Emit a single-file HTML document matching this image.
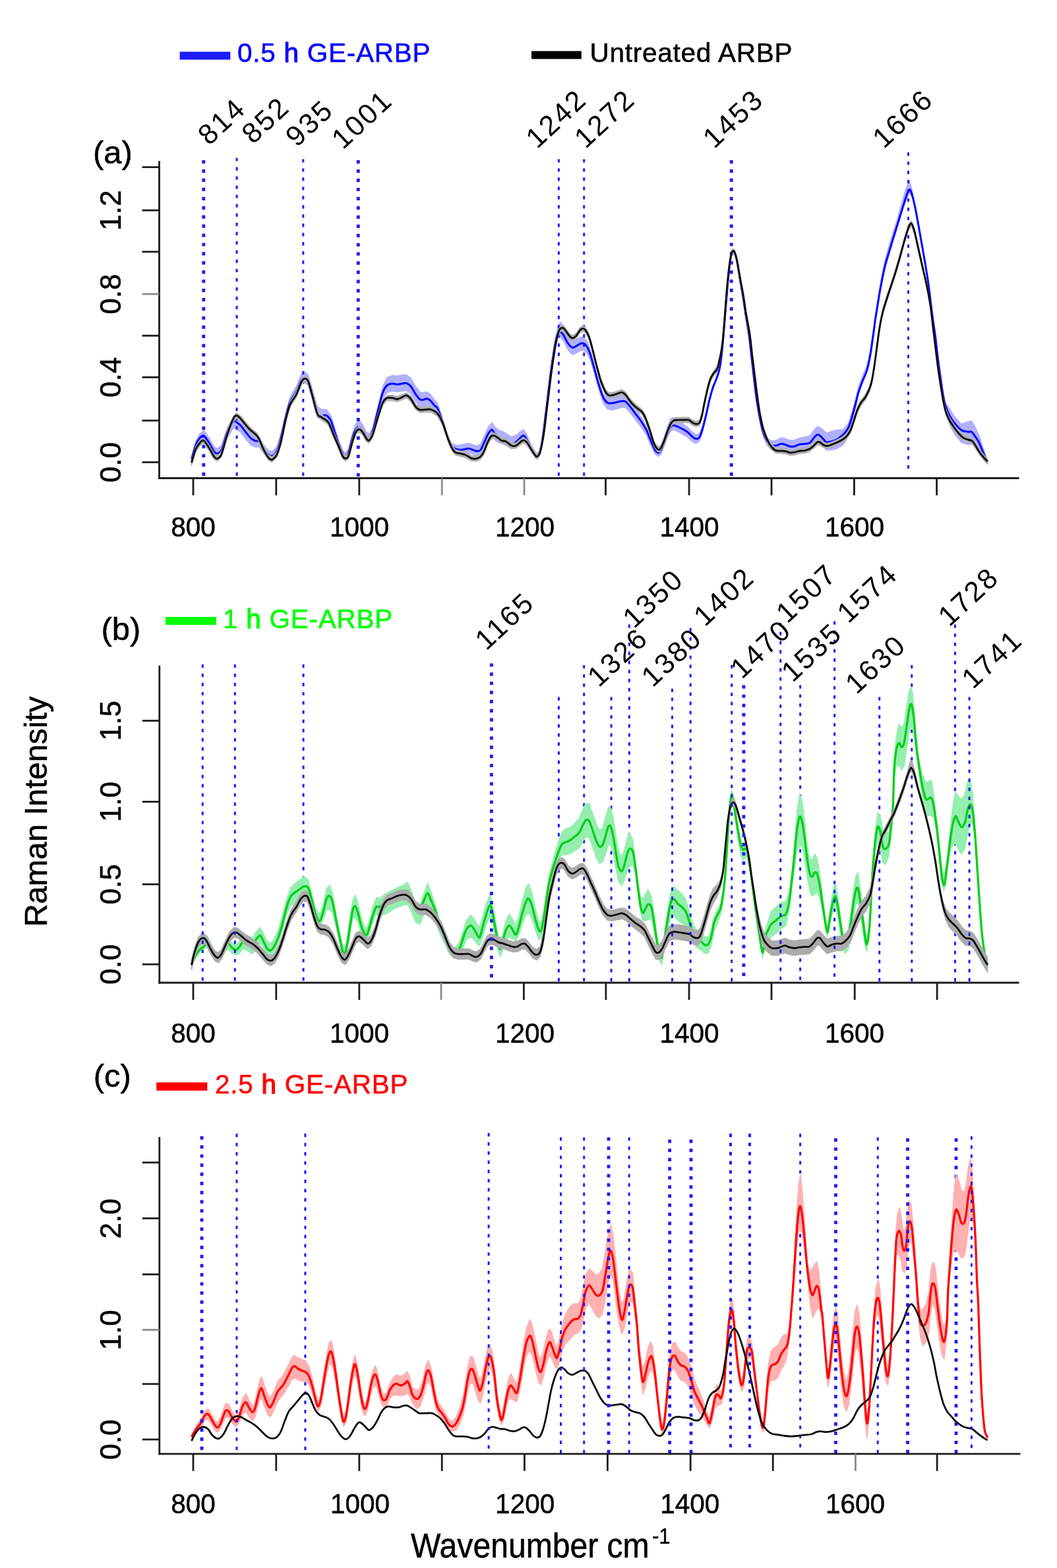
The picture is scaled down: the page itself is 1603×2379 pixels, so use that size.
<!DOCTYPE html>
<html lang="en"><head><meta charset="utf-8"><title>Raman spectra of GE-ARBP</title>
<style>html,body{margin:0;padding:0;background:#fff}body{width:1603px;height:2379px;overflow:hidden}svg{display:block}text{font-family:"Liberation Sans",Arial,Helvetica,sans-serif}</style>
</head><body>
<svg width="1603" height="2379" viewBox="0 0 1603 2379">
<rect x="0" y="0" width="1603" height="2379" fill="#ffffff"/>
<g id="fig">
<g id="panel-a">
<polygon points="290.5,694.4 296.8,670.2 302.7,658.5 309.1,653.1 316.7,663.6 324.9,678.0 329.5,680.7 335.9,675.8 344.8,649.2 353.7,632.9 358.8,634.3 365.2,639.4 372.9,649.6 380.5,658.5 386.9,662.4 393.3,663.7 398.4,672.6 406.0,682.8 412.4,685.3 420.1,677.3 426.4,656.5 434.1,622.9 440.5,600.9 449.4,586.2 457.0,567.7 462.1,564.3 467.2,568.6 473.6,590.3 481.3,617.1 487.7,620.9 495.3,621.4 501.7,630.2 506.8,646.4 513.2,666.7 519.5,683.2 523.9,687.6 528.5,681.1 534.8,656.3 539.9,642.0 545.1,638.0 550.2,644.5 555.3,654.9 559.6,658.6 565.5,647.9 573.1,617.5 580.8,585.8 587.1,572.6 594.8,569.6 602.4,570.5 610.1,568.8 616.5,568.8 622.9,573.7 630.6,586.8 637.0,594.9 642.1,595.8 647.2,594.5 652.3,597.8 658.7,606.3 663.8,612.1 671.4,635.3 679.1,661.0 685.5,673.5 694.4,675.9 702.0,674.0 711.0,672.5 717.3,674.6 723.7,676.5 728.8,673.9 733.9,663.1 740.3,648.4 745.9,641.5 750.5,647.5 755.6,652.1 763.3,655.2 776.0,662.8 783.7,659.7 790.1,653.9 794.4,651.8 799.0,659.7 805.4,674.6 811.7,685.7 814.8,689.1 819.4,680.4 824.0,655.1 827.8,624.6 832.1,589.1 836.7,549.9 841.8,514.1 846.2,494.2 850.0,488.8 855.1,495.3 860.2,506.8 865.3,514.6 869.1,517.1 874.2,514.8 880.6,511.5 885.7,511.7 890.8,518.7 895.9,532.9 902.3,557.6 908.7,581.1 915.1,597.7 921.4,604.1 929.1,603.6 936.7,601.8 944.4,600.6 949.5,602.2 957.1,611.6 964.8,622.3 972.4,633.1 980.1,646.6 986.5,662.6 993.2,678.3 998.3,682.9 1002.1,678.0 1007.2,663.0 1012.3,646.8 1017.4,634.9 1022.5,633.6 1028.9,637.9 1036.5,643.7 1042.9,648.1 1049.3,655.0 1055.7,659.4 1060.8,657.9 1065.9,644.9 1071.0,625.6 1076.1,603.5 1081.2,585.8 1086.3,573.2 1090.6,560.5 1093.9,540.2 1096.5,514.8 1102.6,440.7 1106.4,402.5 1109.7,382.1 1113.5,380.0 1117.3,392.3 1121.9,420.3 1126.8,448.4 1130.6,473.9 1136.0,507.3 1139.8,540.3 1143.7,573.0 1147.5,603.2 1151.8,628.2 1156.9,650.5 1162.8,663.5 1169.2,669.1 1176.8,668.3 1184.5,664.2 1189.6,664.9 1197.2,667.9 1204.9,667.8 1212.6,664.6 1220.2,663.3 1227.9,661.3 1234.2,653.1 1239.3,647.5 1243.2,648.3 1248.3,652.6 1253.4,656.9 1261.0,654.4 1268.7,652.6 1278.9,651.4 1286.5,642.4 1291.6,626.7 1296.7,608.4 1301.8,587.6 1308.2,569.8 1314.6,554.7 1319.7,532.2 1323.5,507.0 1327.3,479.3 1330.6,458.7 1335.7,426.8 1342.0,394.5 1351.0,363.9 1361.2,330.7 1371.4,294.2 1378.5,272.8 1382.8,286.0 1387.9,312.4 1393.1,340.7 1399.4,376.7 1407.1,422.9 1414.2,478.8 1418.6,509.4 1422.4,542.4 1426.2,570.2 1430.0,595.5 1433.9,611.9 1440.2,620.5 1447.9,632.5 1458.1,643.4 1468.3,640.0 1473.4,638.4 1478.5,647.3 1484.9,660.7 1491.3,680.6 1497.6,698.7 1497.6,701.9 1491.3,694.4 1484.9,684.4 1478.5,677.5 1473.4,673.7 1468.3,674.4 1458.1,671.8 1447.9,658.9 1440.2,645.3 1433.9,620.0 1430.0,600.0 1426.2,574.2 1422.4,545.9 1418.6,512.6 1414.2,482.0 1407.1,426.1 1399.4,380.5 1393.1,345.0 1387.9,317.1 1382.8,297.9 1378.5,292.8 1371.4,311.3 1361.2,343.5 1351.0,376.7 1342.0,407.3 1335.7,437.5 1330.6,467.7 1327.3,488.3 1323.5,516.4 1319.7,541.9 1314.6,564.8 1308.2,580.2 1301.8,598.0 1296.7,621.8 1291.6,643.1 1286.5,661.8 1278.9,675.0 1268.7,681.0 1261.0,682.6 1253.4,682.9 1248.3,677.1 1243.2,671.4 1239.3,669.7 1234.2,674.5 1227.9,681.7 1220.2,682.5 1212.6,682.9 1204.9,685.5 1197.2,685.1 1189.6,681.7 1184.5,680.6 1176.8,682.9 1169.2,681.9 1162.8,674.8 1156.9,660.2 1151.8,636.0 1147.5,609.5 1143.7,578.0 1139.8,543.9 1136.0,510.5 1130.6,477.1 1126.8,451.6 1121.9,423.5 1117.3,395.5 1113.5,383.2 1109.7,385.3 1106.4,405.7 1102.6,443.9 1096.5,518.3 1093.9,543.8 1090.6,564.4 1086.3,577.2 1081.2,590.2 1076.1,608.2 1071.0,632.1 1065.9,653.8 1060.8,669.1 1055.7,673.0 1049.3,669.4 1042.9,663.3 1036.5,659.7 1028.9,655.2 1022.5,652.1 1017.4,653.5 1012.3,663.0 1007.2,676.8 1002.1,689.4 998.3,692.5 993.2,688.7 986.5,674.4 980.1,659.9 972.4,648.1 964.8,638.2 957.1,628.0 949.5,619.0 944.4,617.8 936.7,619.7 929.1,622.2 921.4,620.8 915.1,611.8 908.7,592.6 902.3,569.8 895.9,548.1 890.8,536.3 885.7,531.7 880.6,531.8 874.2,535.6 869.1,538.2 865.3,536.1 860.2,528.9 855.1,517.9 850.0,512.0 846.2,513.2 841.8,528.2 836.7,558.2 832.1,592.3 827.8,628.2 824.0,659.0 819.4,684.7 814.8,693.9 811.7,692.1 805.4,685.2 799.0,674.4 794.4,669.5 790.1,671.9 783.7,677.8 776.0,681.0 763.3,673.6 755.6,671.5 750.5,667.6 745.9,662.2 740.3,667.8 733.9,680.7 728.8,690.1 723.7,691.2 717.3,689.0 711.0,686.9 702.0,688.4 694.4,687.6 685.5,682.1 679.1,667.4 671.4,645.7 663.8,626.5 658.7,622.7 652.3,616.8 647.2,615.6 642.1,617.7 637.0,617.2 630.6,609.6 622.9,597.1 616.5,592.7 610.1,593.2 602.4,594.5 594.8,593.2 587.1,595.8 580.8,603.3 573.1,628.2 565.5,659.5 559.6,672.1 555.3,669.4 550.2,660.2 545.1,654.8 539.9,656.8 534.8,668.9 528.5,691.2 523.9,695.8 519.5,692.2 513.2,677.4 506.8,658.8 501.7,643.9 495.3,636.7 487.7,636.9 481.3,633.1 473.6,606.3 467.2,584.6 462.1,580.3 457.0,582.9 449.4,600.2 440.5,613.6 434.1,635.1 426.4,668.1 420.1,688.3 412.4,695.7 406.0,694.6 398.4,686.0 393.3,678.2 386.9,678.3 380.5,675.3 372.9,666.4 365.2,656.2 358.8,651.1 353.7,649.3 344.8,664.9 335.9,690.7 329.5,695.1 324.9,692.7 316.7,679.0 309.1,669.1 302.7,672.5 296.8,682.4 290.5,699.2" fill="#b0b0ff" stroke="#b0b0ff" stroke-width="1.5" stroke-linejoin="round"/>
<line x1="308.8" y1="243.0" x2="308.8" y2="722.2" stroke="#1c1cff" stroke-width="4.8" stroke-dasharray="5.20 8.735"/>
<line x1="359.1" y1="239.4" x2="359.1" y2="722.2" stroke="#1c1cff" stroke-width="3.0" stroke-dasharray="5.20 8.841"/>
<line x1="459.8" y1="241.4" x2="459.8" y2="722.2" stroke="#1c1cff" stroke-width="3.0" stroke-dasharray="5.20 8.782"/>
<line x1="543.3" y1="243.0" x2="543.3" y2="723.2" stroke="#1c1cff" stroke-width="4.8" stroke-dasharray="5.20 8.765"/>
<line x1="847.4" y1="241.4" x2="847.4" y2="722.2" stroke="#1c1cff" stroke-width="3.0" stroke-dasharray="5.20 8.782"/>
<line x1="885.7" y1="241.4" x2="885.7" y2="722.2" stroke="#1c1cff" stroke-width="3.0" stroke-dasharray="5.20 8.782"/>
<line x1="1109.2" y1="243.0" x2="1109.2" y2="722.2" stroke="#1c1cff" stroke-width="4.8" stroke-dasharray="5.20 8.735"/>
<line x1="1377.5" y1="231.2" x2="1377.5" y2="711.2" stroke="#1c1cff" stroke-width="3.0" stroke-dasharray="5.20 8.759"/>
<path d="M290.5,696.8C291.5,693.2 294.8,680.5 296.8,675.2C298.9,669.8 300.7,667.3 302.7,664.9C304.7,662.6 306.7,660.1 309.1,661.1C311.4,662.2 314.1,667.3 316.7,671.3C319.4,675.4 322.8,682.6 324.9,685.4C327.0,688.1 327.7,688.3 329.5,687.9C331.3,687.5 333.3,688.1 335.9,682.8C338.4,677.5 341.8,663.2 344.8,656.0C347.8,648.8 351.4,642.0 353.7,639.4C356.1,636.9 356.9,639.7 358.8,640.7C360.7,641.8 362.9,643.3 365.2,645.8C367.5,648.4 370.3,652.8 372.9,656.0C375.4,659.2 378.2,662.8 380.5,664.9C382.8,667.1 384.8,667.9 386.9,668.8C389.0,669.6 391.4,668.4 393.3,670.1C395.2,671.8 396.2,675.8 398.4,679.0C400.5,682.2 403.7,687.1 406.0,689.2C408.4,691.3 410.1,692.6 412.4,691.7C414.7,690.9 417.7,688.8 420.1,684.1C422.4,679.4 424.1,672.6 426.4,663.7C428.8,654.7 431.7,639.7 434.1,630.5C436.4,621.4 437.9,614.8 440.5,608.8C443.0,602.9 446.6,600.1 449.4,594.8C452.2,589.5 454.9,580.4 457.0,576.9C459.2,573.5 460.4,573.7 462.1,573.9C463.8,574.1 465.3,573.9 467.2,578.2C469.2,582.6 471.3,591.8 473.6,599.9C476.0,608.0 478.9,621.6 481.3,626.7C483.6,631.8 485.3,629.9 487.7,630.5C490.0,631.1 493.0,629.2 495.3,630.5C497.6,631.8 499.8,634.3 501.7,638.2C503.6,642.0 504.9,647.7 506.8,653.5C508.7,659.2 511.0,666.9 513.2,672.6C515.3,678.3 517.8,684.7 519.5,687.9C521.3,691.1 522.4,691.9 523.9,691.7C525.4,691.5 526.6,691.3 528.5,686.6C530.3,682.0 532.9,669.6 534.8,663.7C536.8,657.7 538.2,653.5 539.9,650.9C541.6,648.4 543.4,647.9 545.1,648.4C546.8,648.8 548.5,651.1 550.2,653.5C551.9,655.8 553.7,660.5 555.3,662.4C556.8,664.3 557.9,666.4 559.6,664.9C561.3,663.5 563.2,660.5 565.5,653.5C567.7,646.5 570.6,632.6 573.1,622.9C575.7,613.1 578.4,601.2 580.8,594.8C583.1,588.4 584.8,586.7 587.1,584.6C589.5,582.5 592.2,582.3 594.8,582.0C597.3,581.8 599.9,583.3 602.4,583.3C605.0,583.3 607.8,582.3 610.1,582.0C612.4,581.7 614.4,580.9 616.5,581.5C618.6,582.2 620.5,583.1 622.9,585.9C625.2,588.7 628.3,595.0 630.6,598.4C633.0,601.7 635.1,604.7 637.0,606.0C638.9,607.4 640.4,606.7 642.1,606.5C643.8,606.3 645.5,604.6 647.2,604.7C648.9,604.9 650.4,605.6 652.3,607.3C654.2,609.0 656.8,612.8 658.7,614.9C660.6,617.1 661.6,615.8 663.8,620.1C665.9,624.3 668.9,633.2 671.4,640.5C674.0,647.7 676.7,657.3 679.1,663.4C681.4,669.6 682.9,674.3 685.5,677.4C688.0,680.6 691.6,681.3 694.4,682.0C697.2,682.8 699.3,682.3 702.0,682.0C704.8,681.8 708.4,680.4 711.0,680.5C713.5,680.6 715.2,681.9 717.3,682.6C719.5,683.2 721.8,684.6 723.7,684.6C725.6,684.6 727.1,684.6 728.8,682.6C730.5,680.5 732.0,676.4 733.9,672.3C735.8,668.3 738.3,661.7 740.3,658.3C742.3,654.9 744.2,651.9 745.9,651.9C747.6,651.9 748.9,656.4 750.5,658.3C752.1,660.2 753.5,661.9 755.6,663.4C757.7,664.9 759.9,665.5 763.3,667.2C766.7,668.9 772.6,673.2 776.0,673.6C779.4,674.0 781.3,671.5 783.7,669.8C786.0,668.1 788.3,664.9 790.1,663.4C791.8,661.9 792.9,660.2 794.4,660.9C795.9,661.5 797.2,664.1 799.0,667.2C800.8,670.4 803.2,676.4 805.4,680.0C807.5,683.6 810.2,687.0 811.7,688.9C813.3,690.8 813.5,692.5 814.8,691.5C816.1,690.4 817.9,688.3 819.4,682.6C820.9,676.8 822.6,666.4 824.0,657.0C825.4,647.7 826.4,637.5 827.8,626.4C829.2,615.4 830.7,602.6 832.1,590.7C833.6,578.8 835.1,566.3 836.7,555.0C838.4,543.7 840.3,531.2 841.8,523.1C843.4,515.0 844.8,509.7 846.2,506.5C847.5,503.3 848.5,503.6 850.0,504.0C851.5,504.4 853.4,506.5 855.1,509.1C856.8,511.6 858.5,516.5 860.2,519.3C861.9,522.0 863.8,524.3 865.3,525.7C866.8,527.0 867.6,527.6 869.1,527.4C870.6,527.3 872.3,525.9 874.2,524.9C876.1,523.9 878.7,521.9 880.6,521.3C882.5,520.7 884.0,520.4 885.7,521.3C887.4,522.3 889.1,523.9 890.8,526.9C892.5,530.0 894.0,533.7 895.9,539.7C897.8,545.6 900.2,555.0 902.3,562.7C904.4,570.3 906.5,578.8 908.7,585.6C910.8,592.4 912.9,599.2 915.1,603.5C917.2,607.7 919.1,609.8 921.4,611.1C923.8,612.5 926.5,611.8 929.1,611.6C931.6,611.4 934.2,610.4 936.7,609.8C939.3,609.3 942.3,608.6 944.4,608.6C946.5,608.6 947.4,608.1 949.5,609.8C951.6,611.5 954.6,615.6 957.1,618.8C959.7,622.0 962.2,625.6 964.8,629.0C967.3,632.4 969.9,635.4 972.4,639.2C975.0,643.0 977.8,647.3 980.1,651.9C982.4,656.6 984.3,662.2 986.5,667.2C988.7,672.3 991.2,679.1 993.2,682.3C995.1,685.6 996.8,686.7 998.3,686.9C999.8,687.2 1000.6,686.3 1002.1,683.6C1003.6,680.9 1005.5,675.3 1007.2,670.9C1008.9,666.4 1010.6,660.8 1012.3,656.8C1014.0,652.9 1015.7,649.1 1017.4,647.1C1019.1,645.2 1020.6,645.2 1022.5,645.4C1024.4,645.5 1026.5,646.8 1028.9,647.9C1031.2,649.0 1034.2,650.5 1036.5,651.7C1038.9,653.0 1040.8,653.9 1042.9,655.6C1045.0,657.3 1047.2,660.2 1049.3,661.9C1051.4,663.6 1053.8,665.6 1055.7,665.8C1057.6,666.0 1059.1,666.0 1060.8,663.2C1062.5,660.5 1064.2,654.9 1065.9,649.2C1067.6,643.4 1069.3,636.0 1071.0,628.8C1072.7,621.5 1074.4,612.6 1076.1,605.8C1077.8,599.0 1079.5,593.1 1081.2,588.0C1082.9,582.9 1084.7,579.5 1086.3,575.2C1087.8,571.0 1089.3,568.0 1090.6,562.4C1091.9,556.9 1093.0,549.7 1093.9,542.0C1094.9,534.4 1095.0,533.1 1096.5,516.5C1097.9,499.9 1100.9,461.1 1102.6,442.3C1104.2,423.6 1105.2,413.9 1106.4,404.1C1107.6,394.3 1108.5,387.4 1109.7,383.7C1110.9,379.9 1112.2,379.9 1113.5,381.6C1114.8,383.3 1115.9,387.2 1117.3,393.9C1118.8,400.6 1120.4,412.6 1121.9,421.9C1123.5,431.3 1125.3,441.1 1126.8,450.0C1128.2,458.9 1129.1,465.7 1130.6,475.5C1132.2,485.3 1134.5,497.8 1136.0,508.9C1137.6,520.0 1138.6,531.0 1139.8,542.0C1141.1,553.1 1142.4,564.6 1143.7,575.2C1144.9,585.8 1146.1,596.5 1147.5,605.8C1148.9,615.2 1150.3,623.2 1151.8,631.3C1153.4,639.4 1155.1,648.1 1156.9,654.3C1158.8,660.5 1160.8,664.8 1162.8,668.3C1164.8,671.8 1166.8,673.9 1169.2,675.2C1171.5,676.5 1174.3,676.3 1176.8,676.0C1179.4,675.7 1182.4,673.7 1184.5,673.4C1186.6,673.1 1187.5,673.5 1189.6,674.2C1191.7,674.8 1194.7,676.7 1197.2,677.2C1199.8,677.8 1202.3,677.8 1204.9,677.2C1207.4,676.7 1210.0,674.8 1212.6,674.2C1215.1,673.5 1217.7,673.8 1220.2,673.4C1222.8,673.1 1225.5,673.6 1227.9,672.1C1230.2,670.7 1232.3,666.6 1234.2,664.5C1236.1,662.4 1237.8,660.0 1239.3,659.4C1240.8,658.8 1241.7,659.6 1243.2,660.7C1244.7,661.7 1246.6,664.1 1248.3,665.8C1250.0,667.5 1251.2,670.2 1253.4,670.9C1255.5,671.5 1258.5,670.2 1261.0,669.6C1263.6,669.0 1265.7,668.7 1268.7,667.0C1271.6,665.3 1275.9,662.4 1278.9,659.4C1281.9,656.4 1284.4,653.4 1286.5,649.2C1288.7,644.9 1289.9,639.4 1291.6,633.9C1293.3,628.4 1295.0,622.4 1296.7,616.0C1298.4,609.6 1299.9,602.0 1301.8,595.6C1303.8,589.2 1306.1,583.3 1308.2,577.8C1310.3,572.2 1312.7,568.8 1314.6,562.4C1316.5,556.1 1318.2,547.6 1319.7,539.5C1321.2,531.4 1322.2,522.9 1323.5,514.0C1324.8,505.1 1326.2,494.0 1327.3,485.9C1328.5,477.8 1329.2,473.8 1330.6,465.3C1331.9,456.8 1333.7,444.9 1335.7,434.7C1337.6,424.5 1339.5,414.3 1342.0,404.1C1344.6,393.9 1347.8,384.1 1351.0,373.5C1354.1,362.8 1357.8,351.4 1361.2,340.3C1364.6,329.3 1368.5,315.9 1371.4,307.1C1374.3,298.4 1376.6,290.1 1378.5,288.0C1380.4,285.9 1381.3,289.9 1382.8,294.4C1384.4,298.9 1386.2,306.7 1387.9,314.8C1389.6,322.9 1391.1,332.2 1393.1,342.9C1395.0,353.5 1397.1,365.0 1399.4,378.6C1401.8,392.2 1404.6,407.5 1407.1,424.5C1409.5,441.5 1412.3,466.0 1414.2,480.4C1416.1,494.8 1417.2,500.4 1418.6,511.0C1419.9,521.6 1421.1,534.0 1422.4,544.2C1423.7,554.4 1424.9,563.3 1426.2,572.2C1427.5,581.2 1428.8,590.5 1430.0,597.8C1431.3,605.0 1432.2,610.1 1433.9,615.6C1435.6,621.1 1437.9,626.5 1440.2,630.9C1442.6,635.4 1444.9,638.8 1447.9,642.4C1450.9,646.0 1454.7,650.5 1458.1,652.6C1461.5,654.7 1465.8,654.7 1468.3,655.2C1470.9,655.6 1471.7,654.1 1473.4,655.2C1475.1,656.2 1476.6,658.8 1478.5,661.5C1480.4,664.3 1482.8,667.5 1484.9,671.7C1487.0,676.0 1489.1,682.3 1491.3,687.0C1493.4,691.8 1496.6,698.1 1497.6,700.3" fill="none" stroke="#0505ff" stroke-width="3.0" stroke-linejoin="round" stroke-linecap="butt"/>
<polygon points="290.5,697.9 296.8,677.5 302.7,668.6 308.6,664.3 316.7,675.0 324.9,689.0 329.5,691.6 335.9,685.2 344.8,654.6 353.7,631.6 358.8,626.5 365.2,631.6 378.0,646.9 390.7,658.4 398.4,675.0 406.0,689.0 412.4,693.3 420.1,685.2 426.4,664.8 434.1,629.1 440.5,608.7 449.4,594.6 457.0,575.5 462.1,570.4 467.2,574.2 473.6,595.9 481.3,624.0 487.7,629.1 497.9,636.7 505.5,654.6 513.2,672.4 519.5,687.7 523.9,691.6 528.5,687.7 534.8,664.8 539.9,650.7 545.1,647.4 550.2,652.0 555.3,660.9 559.6,664.3 565.5,654.6 573.1,629.1 580.8,606.1 587.1,599.7 594.8,599.7 602.4,601.5 610.1,598.4 616.5,595.9 622.9,601.0 630.6,613.5 637.0,617.8 645.9,617.3 653.6,617.3 663.8,623.7 671.4,637.7 679.1,660.7 685.5,676.0 690.6,682.4 698.2,684.2 707.1,686.7 714.8,691.3 722.4,691.8 728.8,688.8 733.9,681.1 739.0,668.3 744.1,658.7 749.2,656.9 755.6,660.7 760.7,664.5 767.1,665.8 776.0,672.2 782.4,672.2 788.8,667.1 793.9,663.8 799.0,667.1 805.4,677.3 811.2,686.2 814.8,688.8 819.4,681.1 824.5,655.6 828.3,625.0 832.7,589.3 837.2,553.6 842.3,520.4 846.2,502.5 850.0,494.4 855.1,494.4 860.2,501.3 865.3,507.6 869.1,508.9 874.2,505.1 879.3,497.4 883.7,494.4 888.3,497.4 893.4,507.6 898.5,525.5 904.8,551.0 911.2,574.0 917.6,589.3 922.7,595.6 929.1,595.6 936.7,593.1 943.1,591.3 948.2,594.4 954.6,603.3 961.0,610.9 967.3,616.1 973.7,621.2 978.8,630.1 985.2,647.9 991.9,669.4 997.0,677.1 1000.8,677.8 1005.9,668.1 1012.3,650.3 1017.4,638.8 1022.5,633.7 1034.0,633.2 1044.2,633.2 1050.6,637.5 1055.7,639.3 1060.8,637.5 1064.6,626.1 1068.4,606.9 1073.5,584.0 1077.3,571.2 1082.4,562.3 1087.6,555.9 1092.1,538.0 1095.2,520.2 1097.8,494.7 1102.0,438.3 1105.9,400.1 1109.7,379.7 1113.5,377.6 1117.3,389.9 1122.4,417.9 1127.6,446.0 1131.4,471.5 1137.3,504.9 1141.1,538.0 1144.9,568.7 1148.8,599.3 1152.6,624.8 1157.7,647.7 1164.1,664.3 1170.5,674.5 1176.8,679.6 1185.8,680.1 1192.1,680.9 1198.5,682.9 1204.9,682.2 1212.6,680.1 1220.2,679.6 1227.9,677.1 1234.2,672.0 1239.3,666.9 1243.2,666.9 1248.3,670.7 1253.4,672.7 1259.7,671.2 1268.7,667.6 1276.3,663.8 1284.0,657.9 1290.4,647.7 1295.5,632.4 1300.6,617.1 1305.7,606.9 1312.0,599.3 1318.4,586.5 1322.2,573.8 1326.1,550.8 1329.9,522.7 1333.7,494.7 1338.8,469.2 1345.9,446.0 1356.1,415.4 1363.7,389.9 1371.4,361.8 1377.7,341.4 1382.1,335.0 1386.7,346.5 1393.1,374.6 1399.4,402.6 1405.8,430.7 1410.9,458.8 1415.2,494.3 1418.6,522.3 1422.4,552.9 1426.2,578.4 1430.0,601.4 1433.9,619.3 1439.0,632.0 1445.3,642.2 1453.0,652.4 1460.7,660.1 1468.3,663.1 1474.7,665.2 1479.8,672.8 1486.2,683.0 1492.5,690.7 1497.6,696.3 1497.6,704.3 1492.5,698.7 1486.2,691.0 1479.8,680.8 1474.7,673.2 1468.3,671.1 1460.7,668.1 1453.0,660.4 1445.3,650.2 1439.0,640.0 1433.9,627.3 1430.0,609.4 1426.2,586.4 1422.4,560.9 1418.6,530.3 1415.2,502.3 1410.9,466.8 1405.8,438.7 1399.4,410.6 1393.1,382.6 1386.7,354.5 1382.1,343.0 1377.7,349.4 1371.4,369.8 1363.7,397.9 1356.1,423.4 1345.9,454.0 1338.8,477.2 1333.7,502.7 1329.9,530.7 1326.1,558.8 1322.2,581.8 1318.4,594.5 1312.0,607.3 1305.7,614.9 1300.6,625.1 1295.5,640.4 1290.4,655.7 1284.0,665.9 1276.3,671.8 1268.7,675.6 1259.7,679.2 1253.4,680.7 1248.3,678.7 1243.2,674.9 1239.3,674.9 1234.2,680.0 1227.9,685.1 1220.2,687.6 1212.6,688.1 1204.9,690.2 1198.5,690.9 1192.1,688.9 1185.8,688.1 1176.8,687.6 1170.5,682.5 1164.1,672.3 1157.7,655.7 1152.6,632.8 1148.8,607.3 1144.9,576.7 1141.1,546.0 1137.3,512.9 1131.4,479.5 1127.6,454.0 1122.4,425.9 1117.3,397.9 1113.5,385.6 1109.7,387.7 1105.9,408.1 1102.0,446.3 1097.8,502.7 1095.2,528.2 1092.1,546.0 1087.6,563.9 1082.4,570.3 1077.3,579.2 1073.5,592.0 1068.4,614.9 1064.6,634.1 1060.8,645.5 1055.7,647.3 1050.6,645.5 1044.2,641.2 1034.0,641.2 1022.5,641.7 1017.4,646.8 1012.3,658.3 1005.9,676.1 1000.8,685.8 997.0,685.1 991.9,677.4 985.2,655.9 978.8,638.1 973.7,629.2 967.3,624.1 961.0,618.9 954.6,611.3 948.2,602.4 943.1,599.3 936.7,601.1 929.1,603.6 922.7,603.6 917.6,597.3 911.2,582.0 904.8,559.0 898.5,533.5 893.4,515.6 888.3,505.4 883.7,502.4 879.3,505.4 874.2,513.1 869.1,516.9 865.3,515.6 860.2,509.3 855.1,502.4 850.0,502.4 846.2,510.5 842.3,528.4 837.2,561.6 832.7,597.3 828.3,633.0 824.5,663.6 819.4,689.1 814.8,696.8 811.2,694.2 805.4,685.3 799.0,675.1 793.9,671.8 788.8,675.1 782.4,680.2 776.0,680.2 767.1,673.8 760.7,672.5 755.6,668.7 749.2,664.9 744.1,666.7 739.0,676.3 733.9,689.1 728.8,696.8 722.4,699.8 714.8,699.3 707.1,694.7 698.2,692.2 690.6,690.4 685.5,684.0 679.1,668.7 671.4,645.7 663.8,631.7 653.6,625.3 645.9,625.3 637.0,625.8 630.6,621.5 622.9,609.0 616.5,603.9 610.1,606.4 602.4,609.5 594.8,607.7 587.1,607.7 580.8,614.1 573.1,637.1 565.5,662.6 559.6,672.3 555.3,668.9 550.2,660.0 545.1,655.4 539.9,658.7 534.8,672.8 528.5,695.7 523.9,699.6 519.5,695.7 513.2,680.4 505.5,662.6 497.9,644.7 487.7,637.1 481.3,632.0 473.6,603.9 467.2,582.2 462.1,578.4 457.0,583.5 449.4,602.6 440.5,616.7 434.1,637.1 426.4,672.8 420.1,693.2 412.4,701.3 406.0,697.0 398.4,683.0 390.7,666.4 378.0,654.9 365.2,639.6 358.8,634.5 353.7,639.6 344.8,662.6 335.9,693.2 329.5,699.6 324.9,697.0 316.7,683.0 308.6,672.3 302.7,676.6 296.8,685.5 290.5,705.9" fill="#b0b0b0" stroke="#b0b0b0" stroke-width="1.5" stroke-linejoin="round"/>
<path d="M290.5,701.9C291.5,698.5 294.8,686.4 296.8,681.5C298.9,676.6 300.7,674.8 302.7,672.6C304.7,670.4 306.2,667.2 308.6,668.3C310.9,669.3 314.0,674.9 316.7,679.0C319.5,683.1 322.8,690.2 324.9,693.0C327.0,695.8 327.7,696.2 329.5,695.6C331.3,694.9 333.3,695.3 335.9,689.2C338.4,683.0 341.8,667.5 344.8,658.6C347.8,649.6 351.4,640.3 353.7,635.6C356.1,630.9 356.9,630.5 358.8,630.5C360.7,630.5 362.0,632.2 365.2,635.6C368.4,639.0 373.7,646.5 378.0,650.9C382.2,655.4 387.3,657.7 390.7,662.4C394.1,667.1 395.8,673.9 398.4,679.0C400.9,684.1 403.7,689.9 406.0,693.0C408.4,696.1 410.1,698.0 412.4,697.3C414.7,696.7 417.7,693.9 420.1,689.2C422.4,684.4 424.1,678.1 426.4,668.8C428.8,659.4 431.7,642.4 434.1,633.1C436.4,623.7 437.9,618.4 440.5,612.7C443.0,606.9 446.6,604.1 449.4,598.6C452.2,593.1 454.9,583.5 457.0,579.5C459.2,575.5 460.4,574.6 462.1,574.4C463.8,574.2 465.3,574.0 467.2,578.2C469.2,582.5 471.3,591.6 473.6,599.9C476.0,608.2 478.9,622.4 481.3,628.0C483.6,633.5 484.9,630.9 487.7,633.1C490.4,635.2 494.9,636.5 497.9,640.7C500.8,645.0 503.0,652.6 505.5,658.6C508.1,664.5 510.8,670.9 513.2,676.4C515.5,682.0 517.8,688.5 519.5,691.7C521.3,694.9 522.4,695.6 523.9,695.6C525.4,695.6 526.6,696.2 528.5,691.7C530.3,687.3 532.9,674.9 534.8,668.8C536.8,662.6 538.2,657.6 539.9,654.7C541.6,651.9 543.4,651.2 545.1,651.4C546.8,651.6 548.5,653.8 550.2,656.0C551.9,658.3 553.7,662.9 555.3,664.9C556.8,667.0 557.9,669.3 559.6,668.3C561.3,667.2 563.2,664.4 565.5,658.6C567.7,652.7 570.6,641.1 573.1,633.1C575.7,625.0 578.4,615.0 580.8,610.1C583.1,605.2 584.8,604.8 587.1,603.7C589.5,602.7 592.2,603.4 594.8,603.7C597.3,604.0 599.9,605.7 602.4,605.5C605.0,605.3 607.8,603.4 610.1,602.4C612.4,601.5 614.4,599.5 616.5,599.9C618.6,600.3 620.5,602.1 622.9,605.0C625.2,607.9 628.3,614.7 630.6,617.5C633.0,620.3 634.4,621.2 637.0,621.8C639.5,622.5 643.2,621.4 645.9,621.3C648.7,621.2 650.6,620.3 653.6,621.3C656.5,622.4 660.8,624.3 663.8,627.7C666.8,631.1 668.9,635.6 671.4,641.7C674.0,647.9 676.7,658.3 679.1,664.7C681.4,671.1 683.5,676.4 685.5,680.0C687.4,683.6 688.4,685.0 690.6,686.4C692.7,687.7 695.5,687.4 698.2,688.2C701.0,688.9 704.4,689.5 707.1,690.7C709.9,691.9 712.2,694.5 714.8,695.3C717.3,696.2 720.1,696.2 722.4,695.8C724.8,695.4 726.9,694.5 728.8,692.8C730.7,691.0 732.2,688.5 733.9,685.1C735.6,681.7 737.3,676.1 739.0,672.3C740.7,668.6 742.4,664.6 744.1,662.7C745.8,660.7 747.3,660.5 749.2,660.9C751.1,661.2 753.7,663.4 755.6,664.7C757.5,666.0 758.8,667.7 760.7,668.5C762.6,669.4 764.5,668.5 767.1,669.8C769.6,671.1 773.5,675.1 776.0,676.2C778.6,677.2 780.3,677.0 782.4,676.2C784.5,675.3 786.9,672.5 788.8,671.1C790.7,669.7 792.2,667.8 793.9,667.8C795.6,667.8 797.1,668.8 799.0,671.1C800.9,673.3 803.3,678.1 805.4,681.3C807.4,684.5 809.7,688.3 811.2,690.2C812.8,692.1 813.4,693.6 814.8,692.8C816.2,691.9 817.8,690.6 819.4,685.1C821.0,679.6 823.0,668.9 824.5,659.6C826.0,650.2 827.0,640.0 828.3,629.0C829.7,617.9 831.2,605.2 832.7,593.3C834.1,581.4 835.6,569.0 837.2,557.6C838.9,546.1 840.9,532.9 842.3,524.4C843.8,515.9 844.9,510.9 846.2,506.5C847.4,502.2 848.5,499.7 850.0,498.4C851.5,497.0 853.4,497.2 855.1,498.4C856.8,499.5 858.5,503.0 860.2,505.3C861.9,507.5 863.8,510.4 865.3,511.6C866.8,512.9 867.6,513.3 869.1,512.9C870.6,512.5 872.5,511.0 874.2,509.1C875.9,507.2 877.8,503.2 879.3,501.4C880.9,499.6 882.2,498.4 883.7,498.4C885.2,498.4 886.6,499.2 888.3,501.4C889.9,503.6 891.7,507.0 893.4,511.6C895.1,516.3 896.6,522.3 898.5,529.5C900.4,536.7 902.7,546.9 904.8,555.0C907.0,563.1 909.1,571.6 911.2,578.0C913.4,584.3 915.7,589.7 917.6,593.3C919.5,596.9 920.8,598.6 922.7,599.6C924.6,600.7 926.7,600.1 929.1,599.6C931.4,599.2 934.4,597.8 936.7,597.1C939.1,596.4 941.2,595.1 943.1,595.3C945.0,595.5 946.3,596.4 948.2,598.4C950.1,600.4 952.5,604.5 954.6,607.3C956.7,610.1 958.8,612.8 961.0,614.9C963.1,617.1 965.2,618.4 967.3,620.1C969.5,621.8 971.8,622.8 973.7,625.2C975.6,627.5 976.9,629.6 978.8,634.1C980.7,638.5 983.0,645.4 985.2,651.9C987.4,658.5 989.9,668.6 991.9,673.4C993.9,678.3 995.5,679.7 997.0,681.1C998.5,682.5 999.3,683.3 1000.8,681.8C1002.3,680.3 1004.0,676.7 1005.9,672.1C1007.8,667.6 1010.4,659.2 1012.3,654.3C1014.2,649.4 1015.7,645.6 1017.4,642.8C1019.1,640.0 1019.7,638.6 1022.5,637.7C1025.3,636.8 1030.4,637.3 1034.0,637.2C1037.6,637.1 1041.4,636.5 1044.2,637.2C1046.9,637.9 1048.6,640.5 1050.6,641.5C1052.5,642.6 1054.0,643.3 1055.7,643.3C1057.4,643.3 1059.3,643.7 1060.8,641.5C1062.3,639.3 1063.3,635.2 1064.6,630.1C1065.9,624.9 1066.9,617.9 1068.4,610.9C1069.9,603.9 1072.0,593.9 1073.5,588.0C1075.0,582.0 1075.9,578.8 1077.3,575.2C1078.8,571.6 1080.7,568.8 1082.4,566.3C1084.1,563.7 1085.9,563.9 1087.6,559.9C1089.2,555.9 1090.9,548.0 1092.1,542.0C1093.4,536.1 1094.3,531.4 1095.2,524.2C1096.1,517.0 1096.6,512.3 1097.8,498.7C1098.9,485.0 1100.7,458.1 1102.0,442.3C1103.4,426.6 1104.6,413.9 1105.9,404.1C1107.1,394.3 1108.4,387.4 1109.7,383.7C1111.0,379.9 1112.2,379.9 1113.5,381.6C1114.8,383.3 1115.9,387.2 1117.3,393.9C1118.8,400.6 1120.7,412.6 1122.4,421.9C1124.1,431.3 1126.1,441.1 1127.6,450.0C1129.0,458.9 1129.8,465.7 1131.4,475.5C1133.0,485.3 1135.7,497.8 1137.3,508.9C1138.9,520.0 1139.8,531.4 1141.1,542.0C1142.4,552.7 1143.7,562.4 1144.9,572.7C1146.2,582.9 1147.5,593.9 1148.8,603.3C1150.1,612.6 1151.1,620.7 1152.6,628.8C1154.1,636.9 1155.8,645.1 1157.7,651.7C1159.6,658.3 1162.0,663.9 1164.1,668.3C1166.2,672.8 1168.3,676.0 1170.5,678.5C1172.6,681.1 1174.3,682.7 1176.8,683.6C1179.4,684.6 1183.2,683.9 1185.8,684.1C1188.3,684.3 1190.0,684.4 1192.1,684.9C1194.3,685.4 1196.4,686.7 1198.5,686.9C1200.6,687.2 1202.6,686.6 1204.9,686.2C1207.2,685.7 1210.0,684.6 1212.6,684.1C1215.1,683.7 1217.7,684.1 1220.2,683.6C1222.8,683.1 1225.5,682.3 1227.9,681.1C1230.2,679.8 1232.3,677.7 1234.2,676.0C1236.1,674.3 1237.8,671.7 1239.3,670.9C1240.8,670.0 1241.7,670.2 1243.2,670.9C1244.7,671.5 1246.6,673.7 1248.3,674.7C1250.0,675.7 1251.5,676.6 1253.4,676.7C1255.3,676.8 1257.2,676.1 1259.7,675.2C1262.3,674.4 1265.9,672.9 1268.7,671.6C1271.4,670.4 1273.8,669.4 1276.3,667.8C1278.9,666.2 1281.6,664.6 1284.0,661.9C1286.3,659.3 1288.4,656.0 1290.4,651.7C1292.3,647.5 1293.8,641.5 1295.5,636.4C1297.2,631.3 1298.9,625.4 1300.6,621.1C1302.3,616.9 1303.8,613.9 1305.7,610.9C1307.6,607.9 1309.9,606.7 1312.0,603.3C1314.2,599.9 1316.7,594.8 1318.4,590.5C1320.1,586.3 1321.0,583.7 1322.2,577.8C1323.5,571.8 1324.8,563.3 1326.1,554.8C1327.3,546.3 1328.6,536.1 1329.9,526.7C1331.2,517.4 1332.2,507.6 1333.7,498.7C1335.2,489.7 1336.8,481.3 1338.8,473.2C1340.8,465.1 1343.0,459.0 1345.9,450.0C1348.7,441.0 1353.1,428.7 1356.1,419.4C1359.0,410.0 1361.2,402.8 1363.7,393.9C1366.3,384.9 1369.0,373.9 1371.4,365.8C1373.7,357.7 1376.0,349.9 1377.7,345.4C1379.5,340.9 1380.6,338.2 1382.1,339.0C1383.6,339.9 1384.8,343.9 1386.7,350.5C1388.5,357.1 1390.9,369.2 1393.1,378.6C1395.2,387.9 1397.3,397.3 1399.4,406.6C1401.6,416.0 1403.9,425.3 1405.8,434.7C1407.7,444.0 1409.3,452.2 1410.9,462.8C1412.5,473.4 1414.0,487.7 1415.2,498.3C1416.5,508.9 1417.4,516.5 1418.6,526.3C1419.8,536.1 1421.1,547.6 1422.4,556.9C1423.7,566.3 1424.9,574.4 1426.2,582.4C1427.5,590.5 1428.8,598.6 1430.0,605.4C1431.3,612.2 1432.4,618.2 1433.9,623.3C1435.4,628.4 1437.1,632.2 1439.0,636.0C1440.9,639.8 1443.0,642.8 1445.3,646.2C1447.7,649.6 1450.4,653.5 1453.0,656.4C1455.6,659.4 1458.1,662.3 1460.7,664.1C1463.2,665.9 1466.0,666.3 1468.3,667.1C1470.6,668.0 1472.8,667.6 1474.7,669.2C1476.6,670.8 1477.9,673.9 1479.8,676.8C1481.7,679.8 1484.0,684.1 1486.2,687.0C1488.3,690.0 1490.6,692.5 1492.5,694.7C1494.5,696.9 1496.8,699.4 1497.6,700.3" fill="none" stroke="#0a0a0a" stroke-width="2.8" stroke-linejoin="round" stroke-linecap="butt"/>
<g stroke="#1c1c1c" stroke-width="2.8" fill="none" stroke-linecap="butt">
<line x1="241.5" y1="244.3" x2="241.5" y2="727.0"/>
<line x1="240.0" y1="725.5" x2="1545.5" y2="725.5"/>
<line x1="215.5" y1="253.6" x2="241.5" y2="253.6"/>
<line x1="215.5" y1="319.1" x2="241.5" y2="319.1"/>
<line x1="215.5" y1="382.0" x2="241.5" y2="382.0"/>
<line x1="215.5" y1="446.1" x2="241.5" y2="446.1" stroke="#8a8a8a"/>
<line x1="215.5" y1="509.3" x2="241.5" y2="509.3"/>
<line x1="215.5" y1="572.4" x2="241.5" y2="572.4"/>
<line x1="215.5" y1="638.1" x2="241.5" y2="638.1"/>
<line x1="215.5" y1="701.3" x2="241.5" y2="701.3"/>
<line x1="293.0" y1="725.5" x2="293.0" y2="751.5"/>
<line x1="418.8" y1="725.5" x2="418.8" y2="751.5"/>
<line x1="544.8" y1="725.5" x2="544.8" y2="751.5"/>
<line x1="670.2" y1="725.5" x2="670.2" y2="751.5" stroke="#8a8a8a"/>
<line x1="795.0" y1="725.5" x2="795.0" y2="751.5" stroke="#8a8a8a"/>
<line x1="918.5" y1="725.5" x2="918.5" y2="751.5"/>
<line x1="1045.0" y1="725.5" x2="1045.0" y2="751.5"/>
<line x1="1170.0" y1="725.5" x2="1170.0" y2="751.5"/>
<line x1="1295.4" y1="725.5" x2="1295.4" y2="751.5"/>
<line x1="1420.6" y1="725.5" x2="1420.6" y2="751.5"/>
</g>
<g font-size="43.4" fill="#000" stroke="#000" stroke-width="0.55" text-anchor="middle">
<text transform="translate(293.0 814.0) scale(0.935 1)">800</text>
<text transform="translate(545.0 814.0) scale(0.935 1)">1000</text>
<text transform="translate(796.0 814.0) scale(0.935 1)">1200</text>
<text transform="translate(1045.5 814.0) scale(0.935 1)">1400</text>
<text transform="translate(1296.0 814.0) scale(0.935 1)">1600</text>
<text transform="translate(182.8 319.1) rotate(-90)" font-size="44" letter-spacing="0">1.2</text>
<text transform="translate(182.8 446.1) rotate(-90)" font-size="44" letter-spacing="0">0.8</text>
<text transform="translate(182.8 572.4) rotate(-90)" font-size="44" letter-spacing="0">0.4</text>
<text transform="translate(182.8 701.3) rotate(-90)" font-size="44" letter-spacing="0">0.0</text>
</g>
</g>
<line x1="272.6" y1="84.4" x2="349.4" y2="84.4" stroke="#1c1cff" stroke-width="12"/>
<text x="360" y="94.4" font-size="40.5" letter-spacing="0.75" fill="#0000ff" stroke="#0000ff" stroke-width="0.55">0.5 <tspan stroke="#1c1cff" stroke-width="1.3">h</tspan> GE-ARBP</text>
<line x1="806" y1="83.6" x2="881.8" y2="83.6" stroke="#000" stroke-width="12"/>
<text x="894.5" y="94.4" font-size="40.5" letter-spacing="0.75" fill="#000" stroke="#000" stroke-width="0.55">Untreated ARBP</text>
<text x="141" y="247.7" font-size="49" fill="#000" stroke="#000" stroke-width="0.55">(a)</text>
<text transform="translate(317.0 222.0) rotate(-43)" font-size="43" letter-spacing="2.7" style="fill:#000">814</text>
<text transform="translate(383.5 220.0) rotate(-43)" font-size="43" letter-spacing="2.7" style="fill:#000">852</text>
<text transform="translate(450.0 224.5) rotate(-43)" font-size="43" letter-spacing="2.7" style="fill:#000">935</text>
<text transform="translate(520.0 228.0) rotate(-43)" font-size="43" letter-spacing="2.7" style="fill:#000">1001</text>
<text transform="translate(814.6 226.8) rotate(-43)" font-size="43" letter-spacing="2.7" style="fill:#000">1242</text>
<text transform="translate(888.0 226.8) rotate(-43)" font-size="43" letter-spacing="2.7" style="fill:#000">1272</text>
<text transform="translate(1083.0 226.8) rotate(-43)" font-size="43" letter-spacing="2.7" style="fill:#000">1453</text>
<text transform="translate(1340.3 226.8) rotate(-43)" font-size="43" letter-spacing="2.7" style="fill:#000">1666</text>
<g id="panel-b">
<line x1="460.1" y1="1008.0" x2="460.1" y2="1488.2" stroke="#1c1cff" stroke-width="3.0" stroke-dasharray="5.20 8.765"/>
<line x1="847.4" y1="1057.5" x2="847.4" y2="1489.2" stroke="#1c1cff" stroke-width="3.0" stroke-dasharray="5.20 8.552"/>
<line x1="885.7" y1="1009.0" x2="885.7" y2="1489.2" stroke="#1c1cff" stroke-width="3.0" stroke-dasharray="5.20 8.765"/>
<line x1="927.0" y1="1057.5" x2="927.0" y2="1489.2" stroke="#1c1cff" stroke-width="3.0" stroke-dasharray="5.20 8.552"/>
<line x1="954.3" y1="947.6" x2="954.3" y2="1489.2" stroke="#1c1cff" stroke-width="3.0" stroke-dasharray="5.20 8.549"/>
<line x1="1213.6" y1="1039.6" x2="1213.6" y2="1487.2" stroke="#1c1cff" stroke-width="3.0" stroke-dasharray="5.20 8.619"/>
<line x1="1333.7" y1="1057.5" x2="1333.7" y2="1489.2" stroke="#1c1cff" stroke-width="3.0" stroke-dasharray="5.20 8.552"/>
<line x1="1382.8" y1="1009.0" x2="1382.8" y2="1489.2" stroke="#1c1cff" stroke-width="3.0" stroke-dasharray="5.20 8.765"/>
<line x1="1448.4" y1="947.6" x2="1448.4" y2="1489.2" stroke="#1c1cff" stroke-width="3.0" stroke-dasharray="5.20 8.549"/>
<polygon points="290.5,1462.3 296.3,1445.6 302.7,1434.8 309.1,1427.8 314.7,1421.3 320.6,1433.3 326.9,1446.6 332.0,1450.7 337.1,1439.5 342.2,1428.4 346.1,1423.8 351.2,1430.2 357.6,1434.0 362.7,1429.2 369.0,1419.0 375.4,1419.0 383.1,1423.4 388.2,1414.0 394.5,1407.1 399.6,1416.6 404.7,1427.4 409.8,1431.8 414.9,1426.0 421.3,1412.3 427.7,1391.1 434.1,1365.4 440.5,1347.5 446.8,1341.1 454.5,1335.1 460.9,1329.9 467.2,1334.5 472.3,1353.3 477.4,1374.4 482.6,1386.3 486.4,1384.1 491.5,1365.4 495.3,1348.5 499.9,1342.7 504.2,1354.8 509.3,1384.0 514.4,1412.0 519.5,1433.7 523.4,1436.5 527.2,1418.2 531.0,1390.9 534.8,1366.2 538.7,1358.0 542.5,1368.6 547.6,1391.2 552.7,1406.1 556.5,1408.1 560.4,1395.5 565.5,1376.1 570.6,1361.9 575.7,1362.6 580.8,1359.0 587.1,1354.4 599.9,1348.2 612.7,1342.5 617.8,1338.3 624.1,1352.7 630.6,1371.6 637.0,1373.4 642.1,1357.4 648.5,1340.1 653.6,1353.1 659.9,1371.3 666.3,1394.5 674.0,1413.3 681.6,1432.2 688.0,1440.0 696.9,1429.8 702.0,1413.6 707.1,1397.3 713.5,1388.2 718.6,1393.3 723.7,1402.3 727.6,1406.1 732.7,1388.2 737.8,1370.4 742.9,1357.6 746.7,1369.6 750.5,1391.8 754.3,1413.9 758.2,1431.0 762.0,1418.4 767.1,1397.3 772.2,1386.5 777.3,1394.4 782.4,1403.6 787.5,1387.4 792.6,1364.9 797.7,1347.5 801.5,1340.8 806.6,1354.2 811.7,1377.7 816.8,1397.4 820.7,1400.3 824.5,1382.4 828.3,1356.9 832.1,1331.4 837.2,1311.0 843.6,1287.9 848.7,1271.6 852.6,1262.3 857.7,1257.6 864.0,1255.5 870.4,1250.8 878.1,1241.8 883.2,1229.8 888.3,1219.1 893.4,1219.2 898.5,1232.9 903.6,1248.7 908.7,1259.3 913.8,1256.5 918.9,1238.6 922.7,1224.4 926.5,1225.9 930.4,1244.2 934.2,1268.9 938.0,1291.0 943.1,1299.7 946.9,1289.3 950.8,1273.3 954.6,1263.6 959.7,1274.5 963.5,1304.7 967.3,1336.3 971.2,1359.7 975.0,1364.4 978.8,1356.8 982.7,1349.8 987.8,1359.0 991.9,1386.4 995.7,1415.8 999.5,1437.0 1003.4,1445.5 1007.2,1419.9 1011.0,1391.8 1014.8,1366.2 1018.7,1348.2 1022.5,1345.1 1027.6,1351.2 1034.0,1355.9 1040.4,1365.5 1045.5,1383.7 1050.6,1401.1 1056.9,1411.6 1063.3,1415.7 1068.4,1421.0 1073.5,1421.9 1078.6,1411.4 1082.4,1391.7 1087.6,1380.0 1092.7,1371.5 1096.5,1352.4 1099.8,1323.0 1102.3,1285.6 1104.6,1246.0 1107.2,1213.3 1109.2,1198.9 1111.8,1204.2 1115.6,1230.1 1119.4,1253.5 1123.3,1274.3 1127.1,1282.6 1132.2,1282.7 1136.0,1302.9 1139.8,1329.1 1143.7,1359.7 1148.8,1395.5 1152.6,1421.0 1156.4,1441.4 1159.5,1422.3 1162.0,1406.3 1165.4,1395.9 1169.2,1383.4 1176.8,1376.4 1184.5,1369.4 1192.1,1367.5 1197.2,1351.7 1201.1,1322.1 1204.9,1278.2 1208.7,1231.7 1212.6,1204.3 1216.4,1215.2 1220.2,1245.2 1224.0,1280.3 1227.9,1302.8 1231.7,1305.0 1235.5,1295.7 1239.3,1301.7 1243.2,1325.1 1247.0,1357.3 1250.8,1386.8 1254.6,1409.9 1257.2,1393.4 1261.0,1364.9 1264.8,1344.0 1267.4,1341.3 1271.2,1364.1 1275.1,1394.7 1277.6,1413.3 1281.4,1421.5 1286.5,1410.4 1290.4,1383.9 1294.2,1352.2 1298.0,1328.3 1301.3,1324.2 1304.4,1345.5 1308.2,1377.9 1312.0,1410.3 1314.6,1423.3 1318.4,1401.3 1321.0,1358.5 1323.5,1310.8 1327.3,1261.1 1331.2,1233.2 1335.0,1237.0 1338.8,1259.3 1342.7,1262.5 1347.8,1263.5 1350.3,1249.4 1354.1,1216.7 1356.1,1153.6 1359.1,1118.6 1363.2,1098.3 1367.5,1104.9 1371.4,1097.4 1375.2,1072.1 1379.0,1046.7 1382.1,1042.6 1385.4,1065.8 1387.9,1099.0 1391.8,1141.7 1395.6,1161.8 1399.4,1176.8 1404.5,1187.4 1412.2,1183.5 1416.0,1205.0 1419.3,1235.6 1421.1,1249.1 1424.9,1284.7 1428.0,1313.1 1431.3,1328.0 1433.9,1319.8 1437.7,1292.2 1441.5,1255.2 1445.3,1221.1 1449.2,1201.7 1453.0,1207.4 1458.1,1213.6 1463.2,1205.7 1467.0,1187.1 1470.9,1179.8 1474.7,1202.4 1478.5,1253.1 1481.1,1294.0 1483.6,1333.3 1486.2,1372.5 1488.7,1406.7 1492.5,1438.8 1497.6,1461.4 1497.6,1466.7 1492.5,1445.3 1488.7,1415.1 1486.2,1382.2 1483.6,1344.2 1481.1,1306.2 1478.5,1269.8 1474.7,1246.8 1470.9,1251.9 1467.0,1266.8 1463.2,1287.0 1458.1,1295.6 1453.0,1287.5 1449.2,1280.4 1445.3,1280.1 1441.5,1289.3 1437.7,1310.8 1433.9,1341.5 1431.3,1351.7 1428.0,1336.4 1424.9,1305.7 1421.1,1267.5 1419.3,1256.3 1416.0,1240.9 1412.2,1236.9 1404.5,1238.1 1399.4,1213.0 1395.6,1187.2 1391.8,1156.3 1387.9,1130.3 1385.4,1109.2 1382.1,1101.7 1379.0,1110.9 1375.2,1136.0 1371.4,1161.2 1367.5,1168.4 1363.2,1161.6 1359.1,1161.9 1356.1,1181.2 1354.1,1234.3 1350.3,1277.6 1347.8,1298.7 1342.7,1311.8 1338.8,1308.6 1335.0,1286.3 1331.2,1278.1 1327.3,1292.8 1323.5,1329.2 1321.0,1373.6 1318.4,1418.4 1314.6,1443.6 1312.0,1435.3 1308.2,1410.1 1304.4,1384.9 1301.3,1369.4 1298.0,1372.0 1294.2,1391.6 1290.4,1418.9 1286.5,1441.1 1281.4,1446.4 1277.6,1436.7 1275.1,1420.9 1271.2,1394.6 1267.4,1375.9 1264.8,1377.3 1261.0,1390.0 1257.2,1410.3 1254.6,1421.3 1250.8,1402.0 1247.0,1379.9 1243.2,1362.6 1239.3,1354.2 1235.5,1356.2 1231.7,1359.6 1227.9,1351.6 1224.0,1328.6 1220.2,1303.8 1216.4,1284.1 1212.6,1283.5 1208.7,1291.5 1204.9,1318.6 1201.1,1343.2 1197.2,1379.3 1192.1,1403.6 1184.5,1409.4 1176.8,1415.8 1169.2,1422.2 1165.4,1426.7 1162.0,1430.3 1159.5,1440.9 1156.4,1453.7 1152.6,1432.2 1148.8,1405.5 1143.7,1368.3 1139.8,1336.6 1136.0,1313.5 1132.2,1298.6 1127.1,1305.5 1123.3,1297.2 1119.4,1273.7 1115.6,1247.7 1111.8,1219.2 1109.2,1212.1 1107.2,1224.5 1104.6,1254.8 1102.3,1293.1 1099.8,1333.0 1096.5,1365.7 1092.7,1388.5 1087.6,1402.0 1082.4,1414.7 1078.6,1435.1 1073.5,1446.6 1068.4,1446.6 1063.3,1441.5 1056.9,1437.7 1050.6,1427.5 1045.5,1415.6 1040.4,1404.9 1034.0,1400.8 1027.6,1396.1 1022.5,1390.0 1018.7,1389.3 1014.8,1401.6 1011.0,1421.6 1007.2,1444.0 1003.4,1464.0 999.5,1455.1 995.7,1433.4 991.9,1411.9 987.8,1393.8 982.7,1396.0 978.8,1396.4 975.0,1397.1 971.2,1383.1 967.3,1353.3 963.5,1325.5 959.7,1311.2 954.6,1315.5 950.8,1322.4 946.9,1335.6 943.1,1343.3 938.0,1337.3 934.2,1318.8 930.4,1297.6 926.5,1282.9 922.7,1282.1 918.9,1293.9 913.8,1308.3 908.7,1309.7 903.6,1299.5 898.5,1284.2 893.4,1270.9 888.3,1269.6 883.2,1277.4 878.1,1286.5 870.4,1291.3 864.0,1295.5 857.7,1297.2 852.6,1296.6 848.7,1302.0 843.6,1312.9 837.2,1329.5 832.1,1351.7 828.3,1378.5 824.5,1405.3 820.7,1424.5 816.8,1425.0 811.7,1411.0 806.6,1393.3 801.5,1385.7 797.7,1388.3 792.6,1400.4 787.5,1417.5 782.4,1428.2 777.3,1424.3 772.2,1421.7 767.1,1427.1 762.0,1442.7 758.2,1451.2 754.3,1437.5 750.5,1418.6 746.7,1399.7 742.9,1391.1 737.8,1402.4 732.7,1418.7 727.6,1435.1 723.7,1432.5 718.6,1425.2 713.5,1421.7 707.1,1426.0 702.0,1438.3 696.9,1450.7 688.0,1454.1 681.6,1447.1 674.0,1430.9 666.3,1414.7 659.9,1396.8 653.6,1384.0 648.5,1375.3 642.1,1389.0 637.0,1402.0 630.6,1399.3 624.1,1383.5 617.8,1372.0 612.7,1373.4 599.9,1377.6 587.1,1385.7 580.8,1388.0 575.7,1389.9 570.6,1387.2 565.5,1398.9 560.4,1415.6 556.5,1426.3 552.7,1426.1 547.6,1416.1 542.5,1398.4 538.7,1391.5 534.8,1395.0 531.0,1415.1 527.2,1437.7 523.4,1451.5 519.5,1448.3 514.4,1426.2 509.3,1405.0 504.2,1384.9 499.9,1380.6 495.3,1380.0 491.5,1391.7 486.4,1403.4 482.6,1403.9 477.4,1392.0 472.3,1373.3 467.2,1359.3 460.9,1360.7 454.5,1365.5 446.8,1371.1 440.5,1374.6 434.1,1389.6 427.7,1412.8 421.3,1432.6 414.9,1444.8 409.8,1449.4 404.7,1447.0 399.6,1438.3 394.5,1430.8 388.2,1437.8 383.1,1447.2 375.4,1442.8 369.0,1439.6 362.7,1446.7 357.6,1449.0 351.2,1446.1 346.1,1440.5 342.2,1443.2 337.1,1451.8 332.0,1460.4 326.9,1457.6 320.6,1445.8 314.7,1435.3 309.1,1440.4 302.7,1445.5 296.3,1454.4 290.5,1465.8" fill="#94eeae" stroke="#94eeae" stroke-width="1.5" stroke-linejoin="round"/>
<path d="M290.5,1464.0C291.4,1461.7 294.3,1453.8 296.3,1450.0C298.4,1446.2 300.6,1443.4 302.7,1441.1C304.8,1438.7 307.1,1437.7 309.1,1436.0C311.1,1434.3 312.8,1430.0 314.7,1430.9C316.6,1431.7 318.5,1437.5 320.6,1441.1C322.6,1444.7 325.0,1450.2 326.9,1452.6C328.9,1454.9 330.3,1456.4 332.0,1455.1C333.7,1453.8 335.4,1448.3 337.1,1444.9C338.8,1441.5 340.8,1437.0 342.2,1434.7C343.7,1432.4 344.6,1430.4 346.1,1430.9C347.6,1431.3 349.3,1435.5 351.2,1437.2C353.1,1438.9 355.6,1441.1 357.6,1441.1C359.5,1441.1 360.7,1439.4 362.7,1437.2C364.6,1435.1 366.9,1429.6 369.0,1428.3C371.2,1427.0 373.1,1428.5 375.4,1429.6C377.7,1430.7 380.9,1435.3 383.1,1434.7C385.2,1434.1 386.2,1428.3 388.2,1425.8C390.1,1423.2 392.6,1419.0 394.5,1419.4C396.5,1419.8 397.9,1425.1 399.6,1428.3C401.3,1431.5 403.0,1436.2 404.7,1438.5C406.4,1440.9 408.1,1442.6 409.8,1442.3C411.5,1442.1 413.0,1440.2 414.9,1437.2C416.9,1434.3 419.2,1430.0 421.3,1424.5C423.5,1419.0 425.6,1411.7 427.7,1404.1C429.8,1396.4 432.0,1385.8 434.1,1378.6C436.2,1371.3 438.3,1364.8 440.5,1360.7C442.6,1356.7 444.5,1356.2 446.8,1354.3C449.2,1352.4 452.2,1350.8 454.5,1349.2C456.8,1347.7 458.7,1345.3 460.9,1344.9C463.0,1344.5 465.3,1343.6 467.2,1346.7C469.2,1349.7 470.6,1357.1 472.3,1363.3C474.0,1369.4 475.7,1378.1 477.4,1383.7C479.1,1389.2 481.1,1394.5 482.6,1396.4C484.0,1398.3 484.9,1398.1 486.4,1395.2C487.9,1392.2 490.0,1383.9 491.5,1378.6C493.0,1373.3 493.9,1366.5 495.3,1363.3C496.7,1360.1 498.4,1358.6 499.9,1359.4C501.4,1360.3 502.7,1362.6 504.2,1368.4C505.8,1374.1 507.6,1385.4 509.3,1393.9C511.0,1402.4 512.7,1411.3 514.4,1419.4C516.1,1427.5 518.1,1437.9 519.5,1442.3C521.0,1446.8 522.1,1448.3 523.4,1446.2C524.6,1444.0 525.9,1436.6 527.2,1429.6C528.5,1422.6 529.7,1412.2 531.0,1404.1C532.3,1396.0 533.6,1386.0 534.8,1381.1C536.1,1376.2 537.4,1374.3 538.7,1374.7C539.9,1375.2 541.0,1378.8 542.5,1383.7C544.0,1388.6 545.9,1398.6 547.6,1404.1C549.3,1409.6 551.2,1414.5 552.7,1416.8C554.2,1419.2 555.3,1419.8 556.5,1418.1C557.8,1416.4 558.9,1411.5 560.4,1406.6C561.8,1401.7 563.8,1393.9 565.5,1388.8C567.2,1383.7 568.9,1378.1 570.6,1376.0C572.3,1373.9 574.0,1376.9 575.7,1376.0C577.4,1375.2 578.9,1372.8 580.8,1370.9C582.7,1369.0 584.0,1366.5 587.1,1364.5C590.3,1362.6 595.6,1361.1 599.9,1359.4C604.1,1357.7 609.7,1355.6 612.7,1354.3C615.6,1353.1 615.8,1350.3 617.8,1351.8C619.7,1353.3 622.0,1358.8 624.1,1363.3C626.3,1367.7 628.5,1375.6 630.6,1378.6C632.8,1381.5 635.1,1382.8 637.0,1381.1C638.9,1379.4 640.2,1372.7 642.1,1368.4C644.0,1364.0 646.6,1355.5 648.5,1355.1C650.4,1354.7 651.7,1361.5 653.6,1365.8C655.5,1370.2 657.8,1375.2 659.9,1381.1C662.1,1387.1 664.0,1395.2 666.3,1401.5C668.7,1407.9 671.4,1413.4 674.0,1419.4C676.5,1425.3 679.3,1433.0 681.6,1437.2C684.0,1441.5 685.5,1444.7 688.0,1444.9C690.6,1445.1 694.6,1441.9 696.9,1438.5C699.3,1435.1 700.3,1429.2 702.0,1424.5C703.7,1419.8 705.2,1413.9 707.1,1410.5C709.1,1407.1 711.6,1404.3 713.5,1404.1C715.4,1403.9 716.9,1406.8 718.6,1409.2C720.3,1411.5 722.2,1416.0 723.7,1418.1C725.2,1420.2 726.1,1424.3 727.6,1421.9C729.0,1419.6 731.0,1410.0 732.7,1404.1C734.4,1398.1 736.1,1391.3 737.8,1386.2C739.5,1381.1 741.4,1373.9 742.9,1373.5C744.3,1373.0 745.4,1378.6 746.7,1383.7C748.0,1388.8 749.2,1397.3 750.5,1404.1C751.8,1410.9 753.1,1418.5 754.3,1424.5C755.6,1430.4 756.9,1438.9 758.2,1439.8C759.4,1440.6 760.5,1434.3 762.0,1429.6C763.5,1424.9 765.4,1416.0 767.1,1411.7C768.8,1407.5 770.5,1404.3 772.2,1404.1C773.9,1403.9 775.6,1408.1 777.3,1410.5C779.0,1412.8 780.7,1419.2 782.4,1418.1C784.1,1417.0 785.8,1409.8 787.5,1404.1C789.2,1398.3 790.9,1389.6 792.6,1383.7C794.3,1377.7 796.2,1371.8 797.7,1368.4C799.2,1365.0 800.0,1362.4 801.5,1363.3C803.0,1364.1 804.9,1368.4 806.6,1373.5C808.3,1378.6 810.0,1387.7 811.7,1393.9C813.4,1400.0 815.3,1407.5 816.8,1410.5C818.3,1413.4 819.4,1414.5 820.7,1411.7C821.9,1409.0 823.2,1401.1 824.5,1393.9C825.8,1386.6 827.0,1376.9 828.3,1368.4C829.6,1359.9 830.7,1350.5 832.1,1342.9C833.6,1335.2 835.3,1329.3 837.2,1322.4C839.2,1315.6 841.7,1307.8 843.6,1302.0C845.5,1296.3 847.2,1291.6 848.7,1288.0C850.2,1284.4 851.1,1282.1 852.6,1280.4C854.0,1278.7 855.7,1278.7 857.7,1277.8C859.6,1277.0 861.9,1276.5 864.0,1275.3C866.2,1274.0 868.1,1272.1 870.4,1270.2C872.7,1268.2 875.9,1266.5 878.1,1263.8C880.2,1261.0 881.5,1256.8 883.2,1253.6C884.9,1250.4 886.6,1246.0 888.3,1244.6C890.0,1243.3 891.7,1243.1 893.4,1245.4C895.1,1247.7 896.8,1253.9 898.5,1258.7C900.2,1263.4 901.9,1269.7 903.6,1274.0C905.3,1278.2 907.0,1282.8 908.7,1284.2C910.4,1285.5 912.1,1285.1 913.8,1282.1C915.5,1279.2 917.4,1271.1 918.9,1266.3C920.4,1261.6 921.4,1255.5 922.7,1253.6C924.0,1251.7 925.3,1251.9 926.5,1254.8C927.8,1257.8 929.1,1264.8 930.4,1271.4C931.6,1278.0 932.9,1287.2 934.2,1294.4C935.5,1301.6 936.5,1310.2 938.0,1314.8C939.5,1319.4 941.6,1322.4 943.1,1321.9C944.6,1321.5 945.7,1316.4 946.9,1312.2C948.2,1308.1 949.5,1301.0 950.8,1296.9C952.0,1292.9 953.1,1288.9 954.6,1288.0C956.1,1287.2 958.2,1287.4 959.7,1291.8C961.2,1296.3 962.2,1305.9 963.5,1314.8C964.8,1323.7 966.1,1335.6 967.3,1345.4C968.6,1355.2 969.9,1366.9 971.2,1373.5C972.4,1380.1 973.7,1384.1 975.0,1384.9C976.3,1385.8 977.6,1380.7 978.8,1378.6C980.1,1376.4 981.2,1372.6 982.7,1372.2C984.1,1371.8 986.2,1371.6 987.8,1376.0C989.3,1380.5 990.6,1390.9 991.9,1399.0C993.2,1407.1 994.4,1416.8 995.7,1424.5C997.0,1432.1 998.3,1440.2 999.5,1444.9C1000.8,1449.6 1002.1,1455.1 1003.4,1452.6C1004.6,1450.0 1005.9,1437.7 1007.2,1429.6C1008.5,1421.5 1009.7,1412.2 1011.0,1404.1C1012.3,1396.0 1013.6,1387.5 1014.8,1381.1C1016.1,1374.7 1017.4,1368.6 1018.7,1365.8C1019.9,1363.1 1021.0,1363.7 1022.5,1364.5C1024.0,1365.4 1025.7,1369.0 1027.6,1370.9C1029.5,1372.8 1031.9,1373.9 1034.0,1376.0C1036.1,1378.1 1038.4,1379.8 1040.4,1383.7C1042.3,1387.5 1043.8,1393.9 1045.5,1399.0C1047.2,1404.1 1048.6,1410.0 1050.6,1414.3C1052.5,1418.5 1054.8,1422.2 1056.9,1424.5C1059.1,1426.8 1061.4,1426.8 1063.3,1428.3C1065.2,1429.8 1066.7,1432.6 1068.4,1433.4C1070.1,1434.3 1071.8,1435.3 1073.5,1433.4C1075.2,1431.5 1077.1,1427.3 1078.6,1421.9C1080.1,1416.6 1081.0,1407.1 1082.4,1401.5C1083.9,1396.0 1085.9,1392.6 1087.6,1388.8C1089.3,1384.9 1091.2,1383.7 1092.7,1378.6C1094.1,1373.5 1095.3,1366.7 1096.5,1358.2C1097.7,1349.7 1098.8,1339.0 1099.8,1327.6C1100.8,1316.1 1101.5,1302.0 1102.3,1289.3C1103.2,1276.5 1103.8,1262.5 1104.6,1251.0C1105.5,1239.5 1106.4,1227.6 1107.2,1220.4C1108.0,1213.2 1108.5,1208.9 1109.2,1207.7C1110.0,1206.4 1110.7,1207.7 1111.8,1212.8C1112.8,1217.9 1114.3,1230.2 1115.6,1238.3C1116.9,1246.3 1118.2,1254.0 1119.4,1261.2C1120.7,1268.5 1122.0,1277.0 1123.3,1281.6C1124.5,1286.3 1125.6,1288.2 1127.1,1289.3C1128.6,1290.3 1130.7,1285.0 1132.2,1288.0C1133.7,1291.0 1134.7,1299.7 1136.0,1307.1C1137.3,1314.6 1138.6,1323.3 1139.8,1332.7C1141.1,1342.0 1142.2,1352.2 1143.7,1363.3C1145.2,1374.3 1147.3,1388.8 1148.8,1399.0C1150.3,1409.2 1151.3,1416.8 1152.6,1424.5C1153.9,1432.1 1155.3,1444.0 1156.4,1444.9C1157.6,1445.7 1158.6,1434.3 1159.5,1429.6C1160.4,1424.9 1161.1,1420.0 1162.0,1416.8C1163.0,1413.6 1164.2,1412.8 1165.4,1410.5C1166.5,1408.1 1167.3,1405.1 1169.2,1402.8C1171.1,1400.5 1174.3,1398.6 1176.8,1396.4C1179.4,1394.3 1181.9,1391.8 1184.5,1390.1C1187.0,1388.4 1190.0,1390.3 1192.1,1386.2C1194.3,1382.2 1195.8,1374.7 1197.2,1365.8C1198.7,1356.9 1199.8,1344.1 1201.1,1332.7C1202.3,1321.2 1203.6,1309.3 1204.9,1296.9C1206.2,1284.6 1207.4,1268.2 1208.7,1258.7C1210.0,1249.1 1211.3,1241.7 1212.6,1239.5C1213.8,1237.4 1215.1,1240.6 1216.4,1245.9C1217.7,1251.2 1218.9,1262.1 1220.2,1271.4C1221.5,1280.8 1222.8,1293.1 1224.0,1302.0C1225.3,1311.0 1226.6,1320.3 1227.9,1325.0C1229.1,1329.7 1230.4,1330.3 1231.7,1330.1C1233.0,1329.9 1234.2,1324.4 1235.5,1323.7C1236.8,1323.1 1238.1,1323.1 1239.3,1326.3C1240.6,1329.5 1241.9,1335.8 1243.2,1342.9C1244.4,1349.9 1245.7,1359.9 1247.0,1368.4C1248.3,1376.9 1249.5,1386.2 1250.8,1393.9C1252.1,1401.5 1253.6,1413.0 1254.6,1414.3C1255.7,1415.6 1256.1,1407.5 1257.2,1401.5C1258.3,1395.6 1259.7,1384.9 1261.0,1378.6C1262.3,1372.2 1263.8,1366.2 1264.8,1363.3C1265.9,1360.3 1266.3,1358.2 1267.4,1360.7C1268.5,1363.3 1269.9,1371.3 1271.2,1378.6C1272.5,1385.8 1274.0,1397.3 1275.1,1404.1C1276.1,1410.9 1276.5,1415.3 1277.6,1419.4C1278.7,1423.4 1279.9,1427.9 1281.4,1428.3C1282.9,1428.7 1285.0,1426.8 1286.5,1421.9C1288.0,1417.0 1289.1,1407.5 1290.4,1399.0C1291.6,1390.5 1292.9,1379.0 1294.2,1370.9C1295.5,1362.8 1296.8,1354.3 1298.0,1350.5C1299.2,1346.7 1300.3,1345.4 1301.3,1348.0C1302.4,1350.5 1303.2,1358.2 1304.4,1365.8C1305.5,1373.5 1306.9,1384.5 1308.2,1393.9C1309.5,1403.2 1311.0,1415.6 1312.0,1421.9C1313.1,1428.3 1313.5,1434.3 1314.6,1432.1C1315.7,1430.0 1317.4,1420.2 1318.4,1409.2C1319.5,1398.1 1320.1,1380.7 1321.0,1365.8C1321.8,1350.9 1322.5,1334.8 1323.5,1319.9C1324.6,1305.0 1326.1,1287.4 1327.3,1276.5C1328.6,1265.7 1329.9,1257.4 1331.2,1254.8C1332.4,1252.3 1333.7,1256.3 1335.0,1261.2C1336.3,1266.1 1337.6,1279.7 1338.8,1284.2C1340.1,1288.6 1341.2,1288.4 1342.7,1288.0C1344.1,1287.6 1346.5,1285.7 1347.8,1281.6C1349.0,1277.6 1349.2,1273.1 1350.3,1263.8C1351.4,1254.4 1353.2,1241.7 1354.1,1225.5C1355.1,1209.4 1355.2,1181.3 1356.1,1166.8C1356.9,1152.4 1357.9,1145.4 1359.1,1138.8C1360.3,1132.2 1361.8,1128.1 1363.2,1127.3C1364.6,1126.4 1366.2,1133.9 1367.5,1133.7C1368.9,1133.5 1370.1,1131.5 1371.4,1126.0C1372.6,1120.5 1373.9,1109.0 1375.2,1100.5C1376.5,1092.0 1377.9,1080.3 1379.0,1075.0C1380.2,1069.7 1381.0,1066.9 1382.1,1068.6C1383.1,1070.3 1384.4,1077.8 1385.4,1085.2C1386.4,1092.6 1386.9,1102.6 1387.9,1113.3C1389.0,1123.9 1390.5,1138.8 1391.8,1149.0C1393.1,1159.2 1394.3,1166.8 1395.6,1174.5C1396.9,1182.1 1397.9,1188.5 1399.4,1194.9C1400.9,1201.3 1402.4,1210.2 1404.5,1212.8C1406.7,1215.3 1410.3,1208.5 1412.2,1210.2C1414.1,1211.9 1414.8,1217.0 1416.0,1223.0C1417.2,1228.9 1418.5,1240.0 1419.3,1245.9C1420.2,1251.9 1420.2,1250.2 1421.1,1258.7C1422.0,1267.2 1423.8,1285.5 1424.9,1296.9C1426.1,1308.4 1426.9,1319.9 1428.0,1327.6C1429.1,1335.2 1430.3,1342.0 1431.3,1342.9C1432.3,1343.7 1432.8,1339.5 1433.9,1332.7C1434.9,1325.9 1436.4,1312.2 1437.7,1302.0C1439.0,1291.8 1440.2,1280.4 1441.5,1271.4C1442.8,1262.5 1444.1,1254.0 1445.3,1248.5C1446.6,1242.9 1447.9,1238.7 1449.2,1238.3C1450.4,1237.8 1451.5,1243.2 1453.0,1245.9C1454.5,1248.7 1456.4,1254.4 1458.1,1254.8C1459.8,1255.3 1461.7,1252.5 1463.2,1248.5C1464.7,1244.4 1465.8,1235.3 1467.0,1230.6C1468.3,1225.9 1469.6,1220.8 1470.9,1220.4C1472.1,1220.0 1473.4,1220.8 1474.7,1228.1C1476.0,1235.3 1477.4,1251.4 1478.5,1263.8C1479.6,1276.1 1480.2,1289.3 1481.1,1302.0C1481.9,1314.8 1482.8,1327.6 1483.6,1340.3C1484.5,1353.1 1485.3,1366.7 1486.2,1378.6C1487.0,1390.5 1487.7,1401.1 1488.7,1411.7C1489.8,1422.4 1491.1,1433.6 1492.5,1442.3C1494.0,1451.1 1496.8,1460.4 1497.6,1464.0" fill="none" stroke="#00d018" stroke-width="3.3" stroke-linejoin="round" stroke-linecap="butt"/>
<polygon points="290.5,1456.7 295.1,1437.6 301.4,1421.0 307.8,1415.9 312.9,1419.7 319.3,1432.5 325.7,1442.7 330.8,1445.7 335.9,1440.1 342.2,1426.1 348.6,1413.3 355.0,1407.4 360.1,1408.2 366.5,1413.3 374.1,1419.6 383.1,1424.7 390.7,1431.1 398.4,1440.0 404.7,1447.7 410.6,1450.2 416.2,1446.4 422.6,1434.9 429.0,1417.0 435.4,1396.6 441.7,1380.0 449.4,1368.5 455.8,1357.1 460.9,1351.9 466.0,1352.7 471.1,1366.0 476.2,1383.8 481.3,1397.8 486.4,1402.2 492.8,1402.9 499.1,1406.8 505.5,1417.0 511.9,1432.3 518.3,1445.0 523.4,1448.3 528.5,1441.2 534.8,1427.1 539.9,1415.6 545.1,1413.1 551.4,1418.2 557.8,1424.0 562.9,1419.4 569.3,1404.1 575.7,1381.2 582.0,1364.6 587.1,1358.2 594.8,1355.1 602.4,1351.8 610.1,1350.0 616.5,1350.5 622.9,1355.6 630.6,1368.3 637.0,1372.2 645.9,1372.2 653.6,1377.3 661.2,1386.2 668.9,1398.9 675.3,1414.2 681.6,1429.5 688.0,1437.7 694.4,1439.7 703.3,1439.7 711.0,1439.7 717.3,1442.7 722.4,1444.3 728.8,1439.7 733.9,1429.5 739.0,1419.8 744.1,1416.7 749.2,1418.0 755.6,1421.8 763.3,1423.8 770.9,1426.4 778.6,1428.9 784.9,1428.1 791.3,1424.3 796.4,1424.3 801.5,1429.4 807.9,1437.5 813.8,1440.9 819.4,1435.8 824.0,1416.6 828.3,1386.0 832.7,1355.4 837.2,1335.0 842.3,1314.6 847.4,1303.1 852.6,1301.3 856.4,1304.3 861.5,1313.3 867.9,1317.6 874.2,1314.5 879.3,1310.7 884.4,1309.9 889.5,1317.1 895.9,1331.1 902.3,1345.1 908.7,1360.4 915.1,1373.1 921.4,1380.3 927.8,1381.3 935.5,1379.5 943.1,1377.6 949.5,1379.8 955.9,1385.1 963.5,1391.1 971.2,1395.8 977.6,1401.9 983.9,1414.3 989.0,1424.2 994.4,1433.7 999.5,1433.9 1004.6,1427.5 1009.7,1416.0 1014.8,1405.8 1021.2,1402.8 1028.9,1403.3 1036.5,1404.6 1045.5,1406.3 1051.8,1410.9 1058.2,1412.2 1062.0,1408.4 1067.1,1393.1 1072.2,1375.2 1077.3,1357.4 1082.4,1347.2 1087.6,1342.6 1092.7,1334.7 1096.5,1318.4 1099.0,1292.9 1101.6,1264.9 1104.1,1239.4 1108.0,1219.0 1112.3,1208.7 1116.1,1219.0 1120.7,1234.3 1125.8,1252.1 1130.9,1272.5 1136.0,1298.0 1139.8,1326.1 1143.7,1349.9 1147.5,1373.6 1151.3,1392.2 1155.2,1405.8 1159.0,1416.0 1164.1,1422.4 1170.5,1427.5 1179.4,1427.5 1185.8,1425.0 1190.9,1423.7 1197.2,1426.2 1204.9,1427.5 1212.6,1426.2 1220.2,1425.7 1227.9,1425.0 1234.2,1418.6 1239.3,1412.2 1243.2,1412.2 1248.3,1418.6 1254.6,1425.0 1261.0,1422.4 1268.7,1420.6 1276.3,1420.6 1282.7,1416.0 1289.1,1408.4 1294.2,1395.6 1300.6,1380.3 1306.9,1367.6 1313.3,1359.9 1319.7,1347.2 1323.5,1328.2 1327.3,1306.7 1332.4,1283.3 1337.6,1263.9 1342.0,1256.2 1349.7,1240.9 1357.3,1225.6 1368.8,1195.0 1375.2,1174.4 1380.3,1155.8 1382.8,1153.7 1386.7,1167.5 1391.8,1190.9 1396.9,1208.8 1402.0,1226.6 1408.4,1252.1 1413.5,1275.1 1418.6,1303.1 1422.4,1328.7 1426.2,1351.0 1430.0,1367.1 1433.9,1378.1 1439.0,1384.6 1445.3,1390.5 1451.7,1396.9 1458.1,1405.8 1464.5,1412.2 1470.9,1413.0 1476.0,1416.0 1482.3,1426.2 1488.7,1437.7 1493.8,1446.7 1497.6,1453.0 1497.6,1475.0 1493.8,1468.7 1488.7,1459.7 1482.3,1448.2 1476.0,1438.0 1470.9,1435.0 1464.5,1434.2 1458.1,1427.8 1451.7,1418.9 1445.3,1412.5 1439.0,1405.7 1433.9,1394.4 1430.0,1379.8 1426.2,1360.2 1422.4,1336.7 1418.6,1311.1 1413.5,1283.1 1408.4,1260.1 1402.0,1234.6 1396.9,1216.8 1391.8,1198.9 1386.7,1178.8 1382.8,1170.4 1380.3,1171.8 1375.2,1184.6 1368.8,1205.0 1357.3,1235.6 1349.7,1250.9 1342.0,1266.2 1337.6,1273.9 1332.4,1295.3 1327.3,1322.9 1323.5,1347.3 1319.7,1369.2 1313.3,1381.9 1306.9,1389.6 1300.6,1402.3 1294.2,1417.6 1289.1,1430.4 1282.7,1438.0 1276.3,1442.6 1268.7,1442.6 1261.0,1444.4 1254.6,1447.0 1248.3,1440.6 1243.2,1434.2 1239.3,1434.2 1234.2,1440.6 1227.9,1447.0 1220.2,1447.7 1212.6,1448.2 1204.9,1449.5 1197.2,1448.2 1190.9,1445.7 1185.8,1447.0 1179.4,1449.5 1170.5,1449.5 1164.1,1444.4 1159.0,1438.0 1155.2,1427.8 1151.3,1410.8 1147.5,1388.6 1143.7,1361.3 1139.8,1334.1 1136.0,1306.0 1130.9,1280.5 1125.8,1260.1 1120.7,1242.3 1116.1,1227.0 1112.3,1222.3 1108.0,1227.0 1104.1,1247.4 1101.6,1272.9 1099.0,1300.9 1096.5,1326.4 1092.7,1345.9 1087.6,1361.0 1082.4,1369.2 1077.3,1379.4 1072.2,1397.2 1067.1,1415.1 1062.0,1430.4 1058.2,1434.2 1051.8,1432.9 1045.5,1428.3 1036.5,1426.6 1028.9,1425.3 1021.2,1424.8 1014.8,1427.8 1009.7,1438.0 1004.6,1449.5 999.5,1455.9 994.4,1455.1 989.0,1445.1 983.9,1434.7 977.6,1421.6 971.2,1414.9 963.5,1409.4 955.9,1402.7 949.5,1396.7 943.1,1393.9 935.5,1395.5 927.8,1397.3 921.4,1396.2 915.1,1389.1 908.7,1376.3 902.3,1361.0 895.9,1347.0 889.5,1332.9 884.4,1325.8 879.3,1326.6 874.2,1330.4 867.9,1333.4 861.5,1329.1 856.4,1320.2 852.6,1317.1 847.4,1318.9 842.3,1330.3 837.2,1350.7 832.7,1371.2 828.3,1401.8 824.0,1432.4 819.4,1451.5 813.8,1456.6 807.9,1453.3 801.5,1445.1 796.4,1440.0 791.3,1440.0 784.9,1443.8 778.6,1444.6 770.9,1442.0 763.3,1439.4 755.6,1437.4 749.2,1433.6 744.1,1432.3 739.0,1435.3 733.9,1445.0 728.8,1455.2 722.4,1459.8 717.3,1458.3 711.0,1455.2 703.3,1455.2 694.4,1455.2 688.0,1453.1 681.6,1445.0 675.3,1429.7 668.9,1414.3 661.2,1401.6 653.6,1392.6 645.9,1387.5 637.0,1387.5 630.6,1383.7 622.9,1370.9 616.5,1365.8 610.1,1365.3 602.4,1367.1 594.8,1370.4 587.1,1373.4 582.0,1379.8 575.7,1396.4 569.3,1419.3 562.9,1434.6 557.8,1439.2 551.4,1433.4 545.1,1428.2 539.9,1430.8 534.8,1442.3 528.5,1456.3 523.4,1463.4 518.3,1460.1 511.9,1447.3 505.5,1432.0 499.1,1421.8 492.8,1418.0 486.4,1417.2 481.3,1412.9 476.2,1398.8 471.1,1381.0 466.0,1367.7 460.9,1366.9 455.8,1372.0 449.4,1383.5 441.7,1395.0 435.4,1411.5 429.0,1431.9 422.6,1449.8 416.2,1461.3 410.6,1465.1 404.7,1462.5 398.4,1454.9 390.7,1445.9 383.1,1439.6 374.1,1434.4 366.5,1428.1 360.1,1422.9 355.0,1422.2 348.6,1428.0 342.2,1440.8 335.9,1454.8 330.8,1460.4 325.7,1457.3 319.3,1447.1 312.9,1434.4 307.8,1430.5 301.4,1435.6 295.1,1452.2 290.5,1471.3" fill="#ababab" stroke="#ababab" stroke-width="1.5" stroke-linejoin="round"/>
<path d="M290.5,1464.0C291.2,1460.8 293.2,1450.9 295.1,1444.9C296.9,1438.9 299.3,1431.9 301.4,1428.3C303.6,1424.7 305.9,1423.4 307.8,1423.2C309.7,1423.0 311.0,1424.3 312.9,1427.0C314.8,1429.8 317.2,1436.0 319.3,1439.8C321.4,1443.6 323.8,1447.8 325.7,1450.0C327.6,1452.2 329.1,1453.5 330.8,1453.1C332.5,1452.6 334.0,1450.7 335.9,1447.4C337.8,1444.2 340.1,1437.9 342.2,1433.4C344.4,1429.0 346.5,1423.8 348.6,1420.7C350.7,1417.6 353.1,1415.6 355.0,1414.8C356.9,1413.9 358.2,1414.6 360.1,1415.6C362.0,1416.5 364.1,1418.8 366.5,1420.7C368.8,1422.6 371.4,1425.1 374.1,1427.0C376.9,1429.0 380.3,1430.2 383.1,1432.1C385.8,1434.1 388.2,1436.0 390.7,1438.5C393.3,1441.1 396.0,1444.7 398.4,1447.4C400.7,1450.2 402.7,1453.4 404.7,1455.1C406.8,1456.8 408.7,1457.9 410.6,1457.7C412.5,1457.4 414.2,1456.4 416.2,1453.8C418.2,1451.3 420.5,1447.2 422.6,1442.3C424.7,1437.5 426.9,1430.9 429.0,1424.5C431.1,1418.1 433.2,1410.2 435.4,1404.1C437.5,1397.9 439.4,1392.2 441.7,1387.5C444.1,1382.8 447.0,1379.8 449.4,1376.0C451.7,1372.2 453.9,1367.3 455.8,1364.5C457.7,1361.8 459.2,1360.2 460.9,1359.4C462.6,1358.7 464.3,1357.9 466.0,1360.2C467.7,1362.5 469.4,1368.3 471.1,1373.5C472.8,1378.7 474.5,1386.0 476.2,1391.3C477.9,1396.6 479.6,1402.3 481.3,1405.4C483.0,1408.4 484.5,1408.8 486.4,1409.7C488.3,1410.5 490.6,1409.7 492.8,1410.5C494.9,1411.2 497.0,1411.9 499.1,1414.3C501.3,1416.6 503.4,1420.2 505.5,1424.5C507.6,1428.7 509.8,1435.1 511.9,1439.8C514.0,1444.5 516.4,1449.9 518.3,1452.6C520.2,1455.2 521.7,1456.5 523.4,1455.9C525.1,1455.2 526.6,1452.3 528.5,1448.7C530.4,1445.2 532.9,1438.9 534.8,1434.7C536.8,1430.4 538.2,1425.6 539.9,1423.2C541.6,1420.9 543.1,1420.2 545.1,1420.7C547.0,1421.1 549.3,1423.9 551.4,1425.8C553.6,1427.6 555.9,1431.4 557.8,1431.6C559.7,1431.8 561.0,1430.4 562.9,1427.0C564.8,1423.7 567.2,1418.1 569.3,1411.7C571.4,1405.4 573.5,1395.4 575.7,1388.8C577.8,1382.2 580.1,1376.0 582.0,1372.2C584.0,1368.4 585.0,1367.4 587.1,1365.8C589.3,1364.2 592.2,1363.8 594.8,1362.8C597.3,1361.7 599.9,1360.3 602.4,1359.4C605.0,1358.6 607.8,1357.9 610.1,1357.7C612.4,1357.4 614.4,1357.2 616.5,1358.2C618.6,1359.1 620.5,1360.3 622.9,1363.3C625.2,1366.2 628.3,1373.3 630.6,1376.0C633.0,1378.8 634.4,1379.2 637.0,1379.8C639.5,1380.5 643.2,1379.0 645.9,1379.8C648.7,1380.7 651.0,1382.6 653.6,1384.9C656.1,1387.3 658.7,1390.3 661.2,1393.9C663.8,1397.5 666.5,1402.0 668.9,1406.6C671.2,1411.3 673.1,1416.8 675.3,1421.9C677.4,1427.0 679.5,1433.3 681.6,1437.2C683.8,1441.2 685.9,1443.7 688.0,1445.4C690.1,1447.1 691.8,1447.1 694.4,1447.4C696.9,1447.8 700.6,1447.4 703.3,1447.4C706.1,1447.4 708.6,1446.9 711.0,1447.4C713.3,1448.0 715.4,1449.7 717.3,1450.5C719.3,1451.3 720.5,1452.6 722.4,1452.0C724.4,1451.5 726.9,1449.9 728.8,1447.4C730.7,1445.0 732.2,1440.6 733.9,1437.2C735.6,1433.9 737.3,1429.7 739.0,1427.6C740.7,1425.4 742.4,1424.8 744.1,1424.5C745.8,1424.2 747.3,1424.9 749.2,1425.8C751.1,1426.6 753.3,1428.6 755.6,1429.6C758.0,1430.6 760.7,1430.9 763.3,1431.6C765.8,1432.4 768.4,1433.3 770.9,1434.2C773.5,1435.0 776.2,1436.4 778.6,1436.7C780.9,1437.0 782.8,1436.7 784.9,1436.0C787.1,1435.2 789.4,1432.8 791.3,1432.1C793.2,1431.5 794.7,1431.3 796.4,1432.1C798.1,1433.0 799.6,1435.0 801.5,1437.2C803.4,1439.5 805.9,1443.5 807.9,1445.4C809.9,1447.3 811.9,1449.0 813.8,1448.7C815.7,1448.4 817.7,1447.7 819.4,1443.6C821.1,1439.6 822.5,1432.8 824.0,1424.5C825.5,1416.2 826.9,1404.1 828.3,1393.9C829.8,1383.7 831.2,1371.8 832.7,1363.3C834.1,1354.8 835.6,1349.7 837.2,1342.9C838.9,1336.1 840.6,1327.8 842.3,1322.4C844.0,1317.1 845.7,1313.2 847.4,1311.0C849.1,1308.8 851.1,1309.0 852.6,1309.2C854.0,1309.4 854.9,1310.2 856.4,1312.2C857.9,1314.2 859.6,1319.0 861.5,1321.2C863.4,1323.4 865.7,1325.3 867.9,1325.5C870.0,1325.7 872.3,1323.6 874.2,1322.4C876.1,1321.3 877.6,1319.4 879.3,1318.6C881.0,1317.9 882.7,1316.8 884.4,1317.9C886.1,1318.9 887.6,1321.5 889.5,1325.0C891.5,1328.5 893.8,1334.4 895.9,1339.0C898.0,1343.7 900.2,1348.2 902.3,1353.1C904.4,1358.0 906.5,1363.7 908.7,1368.4C910.8,1373.0 912.9,1377.8 915.1,1381.1C917.2,1384.4 919.3,1386.9 921.4,1388.3C923.6,1389.6 925.5,1389.4 927.8,1389.3C930.1,1389.2 932.9,1388.1 935.5,1387.5C938.0,1386.9 940.8,1385.6 943.1,1385.7C945.5,1385.8 947.4,1386.9 949.5,1388.3C951.6,1389.6 953.5,1391.9 955.9,1393.9C958.2,1395.9 961.0,1398.3 963.5,1400.3C966.1,1402.2 968.8,1403.4 971.2,1405.4C973.5,1407.3 975.4,1408.5 977.6,1411.7C979.7,1414.9 982.0,1420.7 983.9,1424.5C985.8,1428.3 987.3,1431.4 989.0,1434.7C990.8,1438.0 992.7,1442.7 994.4,1444.4C996.2,1446.1 997.8,1445.9 999.5,1444.9C1001.2,1443.9 1002.9,1441.5 1004.6,1438.5C1006.3,1435.5 1008.0,1430.7 1009.7,1427.0C1011.4,1423.4 1012.9,1419.0 1014.8,1416.8C1016.8,1414.6 1018.9,1414.2 1021.2,1413.8C1023.6,1413.4 1026.3,1414.0 1028.9,1414.3C1031.4,1414.6 1033.8,1415.1 1036.5,1415.6C1039.3,1416.1 1042.9,1416.3 1045.5,1417.3C1048.0,1418.4 1049.7,1421.0 1051.8,1421.9C1054.0,1422.9 1056.5,1423.6 1058.2,1423.2C1059.9,1422.8 1060.6,1422.6 1062.0,1419.4C1063.5,1416.2 1065.4,1409.6 1067.1,1404.1C1068.8,1398.6 1070.5,1392.2 1072.2,1386.2C1073.9,1380.3 1075.6,1373.0 1077.3,1368.4C1079.0,1363.7 1080.7,1360.9 1082.4,1358.2C1084.1,1355.4 1085.9,1354.8 1087.6,1351.8C1089.3,1348.8 1091.2,1345.2 1092.7,1340.3C1094.1,1335.4 1095.4,1329.7 1096.5,1322.4C1097.5,1315.2 1098.2,1305.9 1099.0,1296.9C1099.9,1288.0 1100.7,1277.8 1101.6,1268.9C1102.4,1259.9 1103.1,1251.0 1104.1,1243.4C1105.2,1235.7 1106.6,1227.3 1108.0,1223.0C1109.3,1218.6 1110.9,1217.3 1112.3,1217.3C1113.7,1217.3 1114.7,1219.5 1116.1,1223.0C1117.5,1226.4 1119.1,1232.7 1120.7,1238.3C1122.3,1243.8 1124.1,1249.7 1125.8,1256.1C1127.5,1262.5 1129.2,1268.9 1130.9,1276.5C1132.6,1284.2 1134.5,1293.1 1136.0,1302.0C1137.5,1311.0 1138.6,1321.2 1139.8,1330.1C1141.1,1339.0 1142.4,1347.1 1143.7,1355.6C1144.9,1364.1 1146.2,1373.5 1147.5,1381.1C1148.8,1388.8 1150.1,1395.6 1151.3,1401.5C1152.6,1407.5 1153.9,1412.6 1155.2,1416.8C1156.4,1421.1 1157.5,1424.3 1159.0,1427.0C1160.5,1429.8 1162.2,1431.5 1164.1,1433.4C1166.0,1435.3 1167.9,1437.7 1170.5,1438.5C1173.0,1439.4 1176.8,1438.9 1179.4,1438.5C1181.9,1438.1 1183.9,1436.6 1185.8,1436.0C1187.7,1435.3 1189.0,1434.5 1190.9,1434.7C1192.8,1434.9 1194.9,1436.6 1197.2,1437.2C1199.6,1437.9 1202.3,1438.5 1204.9,1438.5C1207.4,1438.5 1210.0,1437.5 1212.6,1437.2C1215.1,1436.9 1217.7,1436.9 1220.2,1436.7C1222.8,1436.5 1225.5,1437.2 1227.9,1436.0C1230.2,1434.8 1232.3,1431.7 1234.2,1429.6C1236.1,1427.5 1237.8,1424.3 1239.3,1423.2C1240.8,1422.2 1241.7,1422.2 1243.2,1423.2C1244.7,1424.3 1246.4,1427.5 1248.3,1429.6C1250.2,1431.7 1252.5,1435.3 1254.6,1436.0C1256.8,1436.6 1258.7,1434.1 1261.0,1433.4C1263.4,1432.7 1266.1,1431.9 1268.7,1431.6C1271.2,1431.3 1274.0,1432.4 1276.3,1431.6C1278.7,1430.9 1280.6,1429.1 1282.7,1427.0C1284.8,1425.0 1287.2,1422.8 1289.1,1419.4C1291.0,1416.0 1292.3,1411.3 1294.2,1406.6C1296.1,1402.0 1298.4,1396.0 1300.6,1391.3C1302.7,1386.6 1304.8,1382.0 1306.9,1378.6C1309.1,1375.2 1311.2,1374.3 1313.3,1370.9C1315.4,1367.5 1318.0,1363.7 1319.7,1358.2C1321.4,1352.6 1322.2,1345.0 1323.5,1337.8C1324.8,1330.5 1325.9,1322.9 1327.3,1314.8C1328.8,1306.7 1330.7,1296.9 1332.4,1289.3C1334.1,1281.6 1336.0,1273.6 1337.6,1268.9C1339.1,1264.2 1340.0,1265.1 1342.0,1261.2C1344.1,1257.4 1347.1,1251.0 1349.7,1245.9C1352.2,1240.8 1354.1,1238.3 1357.3,1230.6C1360.5,1223.0 1365.8,1208.5 1368.8,1200.0C1371.8,1191.5 1373.3,1185.1 1375.2,1179.6C1377.1,1174.1 1379.0,1169.2 1380.3,1166.8C1381.6,1164.5 1381.8,1164.3 1382.8,1165.6C1383.9,1166.8 1385.2,1169.6 1386.7,1174.5C1388.2,1179.4 1390.1,1188.5 1391.8,1194.9C1393.5,1201.3 1395.2,1206.8 1396.9,1212.8C1398.6,1218.7 1400.1,1223.4 1402.0,1230.6C1403.9,1237.8 1406.4,1248.0 1408.4,1256.1C1410.3,1264.2 1411.8,1270.6 1413.5,1279.1C1415.2,1287.6 1417.1,1298.2 1418.6,1307.1C1420.0,1316.1 1421.1,1324.6 1422.4,1332.7C1423.7,1340.7 1424.9,1348.8 1426.2,1355.6C1427.5,1362.4 1428.8,1368.4 1430.0,1373.5C1431.3,1378.6 1432.4,1382.6 1433.9,1386.2C1435.4,1389.8 1437.1,1392.6 1439.0,1395.2C1440.9,1397.7 1443.2,1399.4 1445.3,1401.5C1447.5,1403.7 1449.6,1405.4 1451.7,1407.9C1453.9,1410.5 1456.0,1414.3 1458.1,1416.8C1460.2,1419.4 1462.4,1422.0 1464.5,1423.2C1466.6,1424.4 1468.9,1423.3 1470.9,1424.0C1472.8,1424.6 1474.0,1424.8 1476.0,1427.0C1477.9,1429.3 1480.2,1433.6 1482.3,1437.2C1484.5,1440.9 1486.8,1445.3 1488.7,1448.7C1490.6,1452.1 1492.3,1455.1 1493.8,1457.7C1495.3,1460.2 1497.0,1463.0 1497.6,1464.0" fill="none" stroke="#0a0a0a" stroke-width="2.8" stroke-linejoin="round" stroke-linecap="butt"/>
<line x1="307.3" y1="1008.0" x2="307.3" y2="1488.2" stroke="#1c1cff" stroke-width="3.0" stroke-dasharray="5.20 8.765"/>
<line x1="356.3" y1="1008.0" x2="356.3" y2="1488.2" stroke="#1c1cff" stroke-width="3.0" stroke-dasharray="5.20 8.765"/>
<line x1="745.4" y1="1006.4" x2="745.4" y2="1483.2" stroke="#1c1cff" stroke-width="4.8" stroke-dasharray="5.20 8.665"/>
<line x1="1019.4" y1="1044.7" x2="1019.4" y2="1489.2" stroke="#1c1cff" stroke-width="3.0" stroke-dasharray="5.20 8.522"/>
<line x1="1047.2" y1="952.7" x2="1047.2" y2="1489.2" stroke="#1c1cff" stroke-width="3.0" stroke-dasharray="5.20 8.776"/>
<line x1="1109.7" y1="1009.0" x2="1109.7" y2="1489.2" stroke="#1c1cff" stroke-width="3.0" stroke-dasharray="5.20 8.765"/>
<line x1="1127.9" y1="1039.6" x2="1127.9" y2="1481.2" stroke="#1c1cff" stroke-width="4.8" stroke-dasharray="5.20 8.871"/>
<line x1="1183.7" y1="945.0" x2="1183.7" y2="1487.2" stroke="#1c1cff" stroke-width="3.0" stroke-dasharray="5.20 8.564"/>
<line x1="1265.6" y1="942.5" x2="1265.6" y2="1482.2" stroke="#1c1cff" stroke-width="3.0" stroke-dasharray="5.20 8.861"/>
<line x1="1470.1" y1="1057.5" x2="1470.1" y2="1489.2" stroke="#1c1cff" stroke-width="3.0" stroke-dasharray="5.20 8.552"/>
<g stroke="#1c1c1c" stroke-width="2.8" fill="none" stroke-linecap="butt">
<line x1="241.8" y1="1009.7" x2="241.8" y2="1492.5"/>
<line x1="240.3" y1="1491.0" x2="1545.5" y2="1491.0"/>
<line x1="215.8" y1="1093.5" x2="241.8" y2="1093.5"/>
<line x1="215.8" y1="1216.4" x2="241.8" y2="1216.4"/>
<line x1="215.8" y1="1341.7" x2="241.8" y2="1341.7"/>
<line x1="215.8" y1="1463.1" x2="241.8" y2="1463.1"/>
<line x1="293.0" y1="1491.0" x2="293.0" y2="1517.0"/>
<line x1="418.8" y1="1491.0" x2="418.8" y2="1517.0"/>
<line x1="544.8" y1="1491.0" x2="544.8" y2="1517.0"/>
<line x1="669.0" y1="1491.0" x2="669.0" y2="1517.0" stroke="#8a8a8a"/>
<line x1="794.4" y1="1491.0" x2="794.4" y2="1517.0"/>
<line x1="918.9" y1="1491.0" x2="918.9" y2="1517.0"/>
<line x1="1045.0" y1="1491.0" x2="1045.0" y2="1517.0"/>
<line x1="1170.0" y1="1491.0" x2="1170.0" y2="1517.0"/>
<line x1="1296.2" y1="1491.0" x2="1296.2" y2="1517.0"/>
<line x1="1421.1" y1="1491.0" x2="1421.1" y2="1517.0"/>
</g>
<g font-size="43.4" fill="#000" stroke="#000" stroke-width="0.55" text-anchor="middle">
<text transform="translate(293.0 1581.5) scale(0.935 1)">800</text>
<text transform="translate(545.0 1581.5) scale(0.935 1)">1000</text>
<text transform="translate(796.0 1581.5) scale(0.935 1)">1200</text>
<text transform="translate(1045.5 1581.5) scale(0.935 1)">1400</text>
<text transform="translate(1296.0 1581.5) scale(0.935 1)">1600</text>
<text transform="translate(182.8 1093.5) rotate(-90)" font-size="44" letter-spacing="0">1.5</text>
<text transform="translate(182.8 1216.4) rotate(-90)" font-size="44" letter-spacing="0">1.0</text>
<text transform="translate(182.8 1341.7) rotate(-90)" font-size="44" letter-spacing="0">0.5</text>
<text transform="translate(182.8 1463.1) rotate(-90)" font-size="44" letter-spacing="0">0.0</text>
</g>
</g>
<line x1="251" y1="942" x2="328" y2="942" stroke="#00ff00" stroke-width="12"/>
<text x="338" y="952.5" font-size="40.5" letter-spacing="0.75" fill="#00ff00" stroke="#00ff00" stroke-width="0.55">1 <tspan stroke="#00ff00" stroke-width="1.3">h</tspan> GE-ARBP</text>
<text x="153.5" y="970.7" font-size="49" fill="#000" stroke="#000" stroke-width="0.55">(b)</text>
<text transform="translate(737.6 988.0) rotate(-43)" font-size="43" letter-spacing="2.7" style="fill:#000">1165</text>
<text transform="translate(907.9 1044.0) rotate(-43)" font-size="43" letter-spacing="2.7" style="fill:#000">1326</text>
<text transform="translate(961.6 954.7) rotate(-43)" font-size="43" letter-spacing="2.7" style="fill:#000">1350</text>
<text transform="translate(989.7 1044.0) rotate(-43)" font-size="43" letter-spacing="2.7" style="fill:#000">1380</text>
<text transform="translate(1069.0 952.0) rotate(-43)" font-size="43" letter-spacing="2.7" style="fill:#000">1402</text>
<text transform="translate(1125.0 1031.4) rotate(-43)" font-size="43" letter-spacing="2.7" style="fill:#000">1470</text>
<text transform="translate(1194.0 947.0) rotate(-43)" font-size="43" letter-spacing="2.7" style="fill:#000">1507</text>
<text transform="translate(1202.0 1036.5) rotate(-43)" font-size="43" letter-spacing="2.7" style="fill:#000">1535</text>
<text transform="translate(1286.4 947.0) rotate(-43)" font-size="43" letter-spacing="2.7" style="fill:#000">1574</text>
<text transform="translate(1299.0 1054.4) rotate(-43)" font-size="43" letter-spacing="2.7" style="fill:#000">1630</text>
<text transform="translate(1439.8 952.0) rotate(-43)" font-size="43" letter-spacing="2.7" style="fill:#000">1728</text>
<text transform="translate(1475.6 1046.7) rotate(-43)" font-size="43" letter-spacing="2.7" style="fill:#000">1741</text>
<g id="panel-c">
<line x1="462.9" y1="1720.0" x2="462.9" y2="2200.2" stroke="#1c1cff" stroke-width="3.0" stroke-dasharray="5.20 8.765"/>
<line x1="1213.6" y1="1720.0" x2="1213.6" y2="2196.2" stroke="#1c1cff" stroke-width="3.0" stroke-dasharray="5.20 8.647"/>
<line x1="1331.2" y1="1725.5" x2="1331.2" y2="2205.2" stroke="#1c1cff" stroke-width="3.0" stroke-dasharray="5.20 8.750"/>
<line x1="1450.0" y1="1727.0" x2="1450.0" y2="2205.2" stroke="#1c1cff" stroke-width="4.8" stroke-dasharray="5.20 8.706"/>
<polygon points="290.5,2178.0 297.6,2162.9 305.3,2151.6 310.4,2140.6 315.5,2137.3 320.6,2145.2 325.7,2154.5 330.0,2158.6 334.6,2150.7 338.4,2139.2 342.2,2129.0 346.8,2130.8 351.2,2139.7 355.0,2146.0 358.8,2149.6 362.7,2140.3 367.8,2122.7 372.9,2114.0 378.0,2125.2 383.1,2133.8 386.9,2125.0 390.7,2107.2 394.5,2092.0 397.1,2089.1 400.9,2101.5 406.0,2115.5 409.8,2120.3 414.9,2111.4 421.3,2096.1 429.0,2087.1 436.6,2072.5 443.0,2059.3 446.8,2056.5 451.9,2060.0 458.3,2063.0 463.4,2064.5 468.5,2073.5 473.6,2091.4 478.7,2114.5 482.6,2126.7 486.4,2114.5 490.2,2089.6 495.3,2056.3 499.1,2037.7 502.4,2034.3 505.5,2047.3 509.3,2072.3 513.2,2102.3 517.0,2129.8 520.8,2149.6 524.6,2140.6 528.5,2113.8 532.3,2084.4 536.1,2062.6 538.7,2056.6 542.5,2073.5 546.3,2100.6 550.2,2122.6 554.0,2130.5 557.8,2117.4 561.6,2095.5 565.5,2078.6 569.3,2071.9 573.1,2083.8 576.9,2103.4 580.8,2115.3 585.9,2114.3 591.0,2099.7 596.1,2090.3 601.2,2085.9 607.6,2087.9 613.9,2084.8 617.8,2080.8 621.6,2090.6 625.4,2105.6 631.9,2109.8 637.0,2105.3 642.1,2089.4 645.9,2071.0 649.7,2064.2 653.6,2074.5 657.4,2096.2 661.2,2116.7 665.1,2128.3 670.2,2135.4 675.3,2143.5 680.4,2152.9 686.2,2157.2 691.8,2149.7 696.9,2137.1 702.0,2119.3 705.9,2097.1 709.7,2072.3 713.5,2057.7 717.3,2059.4 721.2,2072.6 725.0,2087.0 728.3,2094.8 732.7,2080.1 736.5,2059.1 740.3,2043.2 743.4,2040.5 746.7,2052.6 750.0,2074.9 753.1,2107.3 756.9,2132.4 760.2,2147.1 763.3,2137.2 767.1,2113.9 770.9,2093.2 774.7,2084.0 778.6,2091.0 783.7,2100.0 787.5,2082.6 791.3,2057.7 795.2,2032.7 799.0,2012.8 804.1,2002.4 807.9,2013.8 811.7,2032.8 816.3,2054.5 820.2,2062.1 824.0,2050.2 828.3,2029.4 832.1,2017.6 834.7,2016.7 838.5,2028.4 842.3,2040.1 844.9,2043.7 848.7,2029.3 852.6,2009.7 857.7,1994.7 864.0,1983.0 870.4,1977.7 876.8,1978.2 880.6,1971.7 884.4,1954.5 888.3,1934.8 893.4,1925.0 898.5,1929.0 903.6,1934.2 908.7,1933.1 913.8,1923.9 917.6,1902.1 920.9,1880.7 924.0,1864.5 926.5,1859.9 929.6,1874.4 932.9,1903.1 936.2,1934.4 939.3,1960.4 943.1,1980.9 946.9,1968.2 950.8,1944.0 954.6,1924.9 959.2,1931.5 962.2,1961.7 966.1,2002.9 968.6,2035.0 971.9,2061.0 975.0,2076.1 978.8,2064.0 982.7,2045.4 986.5,2035.7 989.0,2040.5 993.2,2070.1 997.0,2111.5 1000.8,2146.1 1003.9,2163.8 1007.2,2151.8 1010.5,2118.1 1013.6,2079.5 1016.6,2051.1 1019.9,2038.3 1023.8,2036.6 1027.6,2044.3 1032.7,2050.7 1037.8,2052.7 1042.9,2059.6 1048.0,2074.6 1053.1,2093.5 1059.5,2107.5 1065.9,2123.7 1072.2,2142.5 1076.1,2152.2 1079.9,2133.9 1083.7,2110.5 1086.8,2100.4 1090.1,2104.0 1093.9,2112.2 1097.8,2098.8 1100.3,2065.2 1102.9,2026.4 1105.4,1992.8 1108.0,1974.5 1110.5,1971.4 1113.1,1991.0 1115.6,2026.0 1119.4,2064.4 1123.3,2090.1 1125.8,2092.3 1128.4,2077.2 1130.9,2049.2 1133.5,2031.5 1137.3,2028.1 1140.6,2039.6 1143.7,2068.8 1147.5,2103.9 1151.3,2134.5 1155.2,2157.4 1157.7,2158.2 1160.3,2134.2 1162.8,2100.0 1165.4,2070.9 1169.2,2050.2 1174.3,2044.5 1179.4,2041.5 1184.5,2030.9 1189.6,2024.2 1193.4,2025.7 1197.2,2011.8 1199.8,1985.6 1201.1,1966.3 1203.6,1922.9 1206.2,1874.4 1208.7,1830.9 1211.3,1797.7 1213.8,1782.4 1216.4,1805.3 1218.9,1838.4 1221.5,1876.6 1224.0,1914.7 1226.6,1924.8 1229.1,1929.7 1232.4,1923.9 1235.5,1918.7 1238.6,1914.7 1241.4,1926.8 1243.7,1950.7 1245.7,1976.3 1246.9,1985.9 1249.4,2017.0 1252.0,2047.6 1254.5,2075.7 1256.1,2083.1 1258.6,2061.2 1261.7,2025.8 1264.7,1995.5 1267.3,1983.9 1269.8,1991.7 1272.4,2017.5 1275.7,2051.2 1279.5,2082.3 1283.4,2095.6 1286.7,2083.5 1290.2,2055.8 1293.6,2020.6 1296.6,1990.7 1299.9,1979.8 1303.0,1995.0 1305.8,2027.7 1308.9,2068.5 1311.4,2108.5 1314.7,2149.8 1317.8,2131.3 1320.3,2091.8 1322.9,2040.0 1325.4,1990.0 1328.5,1953.9 1331.8,1941.2 1334.4,1955.2 1337.4,1991.4 1340.8,2033.0 1343.8,2064.1 1346.4,2074.3 1348.9,2060.9 1351.5,2027.0 1354.0,1982.8 1355.6,1947.4 1357.3,1902.3 1359.1,1862.3 1361.2,1841.8 1364.2,1832.4 1366.8,1844.3 1368.8,1862.5 1371.4,1869.9 1374.4,1859.1 1376.5,1834.9 1378.5,1822.1 1381.6,1826.0 1384.1,1851.4 1386.7,1889.4 1389.2,1927.5 1391.8,1961.5 1393.8,1978.3 1395.6,1987.9 1399.4,1986.2 1404.5,1978.9 1408.4,1961.9 1410.9,1935.3 1413.5,1917.6 1416.0,1915.3 1418.6,1924.5 1421.1,1946.5 1424.9,1979.5 1428.8,2004.9 1431.8,2013.2 1434.6,2005.1 1436.4,1988.6 1437.7,1950.3 1440.2,1912.0 1443.3,1858.3 1446.6,1811.3 1449.9,1782.1 1454.3,1791.9 1458.1,1806.6 1462.7,1807.8 1465.8,1792.9 1468.8,1769.0 1472.1,1758.1 1474.7,1782.2 1477.2,1824.3 1479.8,1884.1 1481.6,1936.4 1483.6,1973.8 1485.7,2039.0 1488.2,2103.3 1491.3,2149.4 1493.8,2170.0 1497.6,2179.3 1497.6,2182.9 1493.8,2174.2 1491.3,2154.0 1488.2,2108.4 1485.7,2045.1 1483.6,1982.8 1481.6,1948.3 1479.8,1898.5 1477.2,1863.6 1474.7,1846.4 1472.1,1847.2 1468.8,1861.0 1465.8,1887.5 1462.7,1905.0 1458.1,1909.5 1454.3,1900.6 1449.9,1897.3 1446.6,1896.0 1443.3,1912.6 1440.2,1938.1 1437.7,1970.8 1436.4,2015.2 1434.6,2040.3 1431.8,2061.8 1428.8,2056.6 1424.9,2035.2 1421.1,2006.1 1418.6,1986.7 1416.0,1980.1 1413.5,1980.9 1410.9,1997.1 1408.4,2022.2 1404.5,2036.9 1399.4,2041.1 1395.6,2027.6 1393.8,2010.9 1391.8,1986.0 1389.2,1941.9 1386.7,1918.2 1384.1,1894.6 1381.6,1883.6 1378.5,1886.3 1376.5,1898.3 1374.4,1921.8 1371.4,1931.6 1368.8,1926.4 1366.8,1912.4 1364.2,1905.9 1361.2,1901.4 1359.1,1905.9 1357.3,1931.8 1355.6,1962.9 1354.0,1999.2 1351.5,2046.9 1348.9,2084.4 1346.4,2101.6 1343.8,2096.2 1340.8,2070.8 1337.4,2035.5 1334.4,2005.0 1331.8,1995.8 1328.5,1996.3 1325.4,2016.9 1322.9,2054.1 1320.3,2108.1 1317.8,2155.0 1314.7,2182.1 1311.4,2148.2 1308.9,2113.9 1305.8,2079.9 1303.0,2053.4 1299.9,2043.0 1296.6,2050.5 1293.6,2077.2 1290.2,2108.8 1286.7,2132.8 1283.4,2141.5 1279.5,2129.3 1275.7,2099.2 1272.4,2066.5 1269.8,2041.4 1267.3,2034.0 1264.7,2039.0 1261.7,2061.4 1258.6,2088.9 1256.1,2104.2 1254.5,2095.4 1252.0,2065.5 1249.4,2033.1 1246.9,2001.2 1245.7,2000.3 1243.7,1990.1 1241.4,1983.4 1238.6,1987.1 1235.5,1992.7 1232.4,1999.5 1229.1,1981.2 1226.6,1957.7 1224.0,1929.1 1221.5,1908.3 1218.9,1887.4 1216.4,1871.7 1213.8,1866.1 1211.3,1868.2 1208.7,1888.1 1206.2,1918.3 1203.6,1953.5 1201.1,1983.7 1199.8,1996.4 1197.2,2031.4 1193.4,2058.4 1189.6,2070.1 1184.5,2078.1 1179.4,2090.0 1174.3,2094.2 1169.2,2094.1 1165.4,2105.1 1162.8,2127.8 1160.3,2155.6 1157.7,2173.1 1155.2,2168.8 1151.3,2144.6 1147.5,2112.9 1143.7,2086.2 1140.6,2063.8 1137.3,2059.5 1133.5,2061.7 1130.9,2075.4 1128.4,2099.4 1125.8,2110.5 1123.3,2107.2 1119.4,2084.2 1115.6,2048.5 1113.1,2015.3 1110.5,1997.5 1108.0,1999.5 1105.4,2013.8 1102.9,2043.4 1100.3,2078.2 1097.8,2107.8 1093.9,2130.7 1090.1,2131.9 1086.8,2133.3 1083.7,2138.1 1079.9,2154.9 1076.1,2166.6 1072.2,2161.4 1065.9,2150.3 1059.5,2141.7 1053.1,2130.3 1048.0,2113.5 1042.9,2100.6 1037.8,2095.8 1032.7,2093.8 1027.6,2086.6 1023.8,2078.4 1019.9,2077.6 1016.6,2084.9 1013.6,2108.2 1010.5,2141.7 1007.2,2169.9 1003.9,2176.4 1000.8,2159.5 997.0,2125.8 993.2,2095.2 989.0,2078.2 986.5,2080.1 982.7,2087.9 978.8,2104.6 975.0,2114.9 971.9,2092.6 968.6,2058.3 966.1,2019.7 962.2,1990.0 959.2,1974.7 954.6,1976.2 950.8,1992.6 946.9,2014.1 943.1,2024.1 939.3,2010.6 936.2,1990.3 932.9,1965.2 929.6,1942.5 926.5,1933.7 924.0,1937.3 920.9,1952.3 917.6,1972.3 913.8,1992.6 908.7,1999.7 903.6,1996.0 898.5,1986.0 893.4,1977.2 888.3,1984.3 884.4,2002.1 880.6,2017.3 876.8,2021.9 870.4,2025.1 864.0,2032.2 857.7,2038.4 852.6,2048.9 848.7,2065.0 844.9,2076.1 842.3,2074.5 838.5,2065.8 834.7,2057.1 832.1,2058.8 828.3,2069.9 824.0,2090.0 820.2,2101.1 816.3,2095.5 811.7,2076.1 807.9,2059.1 804.1,2049.7 799.0,2055.0 795.2,2071.1 791.3,2092.2 787.5,2113.4 783.7,2127.0 778.6,2124.0 774.7,2121.5 770.9,2124.7 767.1,2139.3 763.3,2156.4 760.2,2161.5 756.9,2150.8 753.1,2130.2 750.0,2101.5 746.7,2083.2 743.4,2075.0 740.3,2078.2 736.5,2093.9 732.7,2114.7 728.3,2129.2 725.0,2123.1 721.2,2110.7 717.3,2099.5 713.5,2097.8 709.7,2108.8 705.9,2129.9 702.0,2148.4 696.9,2161.3 691.8,2169.0 686.2,2171.7 680.4,2167.9 675.3,2158.9 670.2,2151.3 665.1,2145.7 661.2,2137.7 657.4,2120.9 653.6,2102.8 649.7,2096.1 645.9,2102.0 642.1,2119.4 637.0,2134.1 631.9,2137.2 625.4,2128.6 621.6,2118.6 617.8,2113.6 613.9,2116.1 607.6,2117.8 601.2,2116.5 596.1,2116.8 591.0,2122.1 585.9,2132.6 580.8,2134.0 576.9,2125.7 573.1,2109.8 569.3,2101.6 565.5,2105.2 561.6,2119.1 557.8,2138.0 554.0,2148.1 550.2,2143.1 546.3,2124.2 542.5,2100.1 538.7,2086.3 536.1,2090.1 532.3,2108.6 528.5,2134.7 524.6,2158.3 520.8,2164.0 517.0,2148.5 513.2,2125.3 509.3,2099.6 505.5,2079.0 502.4,2069.4 499.1,2070.9 495.3,2085.1 490.2,2112.6 486.4,2133.2 482.6,2141.1 478.7,2132.4 473.6,2114.0 468.5,2100.8 463.4,2096.4 458.3,2095.6 451.9,2093.5 446.8,2090.7 443.0,2092.5 436.6,2104.2 429.0,2116.8 421.3,2125.8 414.9,2141.1 409.8,2150.0 406.0,2146.2 400.9,2133.4 397.1,2121.9 394.5,2122.8 390.7,2134.9 386.9,2149.6 383.1,2155.4 378.0,2149.9 372.9,2141.9 367.8,2145.7 362.7,2158.3 358.8,2164.0 355.0,2162.2 351.2,2157.7 346.8,2150.8 342.2,2149.9 338.4,2158.1 334.6,2167.5 330.0,2173.0 325.7,2169.4 320.6,2160.8 315.5,2153.5 310.4,2155.2 305.3,2164.7 297.6,2173.7 290.5,2181.6" fill="#ffb0b0" stroke="#ffb0b0" stroke-width="1.5" stroke-linejoin="round"/>
<path d="M290.5,2179.8C291.6,2177.9 295.1,2171.9 297.6,2168.3C300.1,2164.7 303.1,2161.5 305.3,2158.1C307.4,2154.7 308.7,2150.0 310.4,2147.9C312.1,2145.8 313.8,2144.5 315.5,2145.4C317.2,2146.2 318.9,2150.2 320.6,2153.0C322.3,2155.8 324.1,2159.8 325.7,2161.9C327.2,2164.1 328.5,2166.2 330.0,2165.8C331.5,2165.3 333.2,2162.2 334.6,2159.4C336.0,2156.6 337.1,2152.4 338.4,2149.2C339.7,2146.0 340.8,2141.5 342.2,2140.3C343.6,2139.0 345.3,2140.0 346.8,2141.5C348.3,2143.0 349.8,2147.1 351.2,2149.2C352.5,2151.3 353.7,2153.0 355.0,2154.3C356.3,2155.6 357.6,2157.7 358.8,2156.8C360.1,2156.0 361.2,2153.0 362.7,2149.2C364.1,2145.4 366.1,2137.5 367.8,2133.9C369.5,2130.3 371.2,2127.1 372.9,2127.5C374.6,2127.9 376.3,2133.9 378.0,2136.4C379.7,2139.0 381.6,2142.8 383.1,2142.8C384.5,2142.8 385.6,2140.0 386.9,2136.4C388.2,2132.8 389.4,2125.8 390.7,2121.1C392.0,2116.4 393.5,2110.7 394.5,2108.4C395.6,2106.0 396.0,2105.4 397.1,2107.1C398.2,2108.8 399.4,2114.5 400.9,2118.6C402.4,2122.6 404.5,2128.6 406.0,2131.3C407.5,2134.1 408.4,2136.0 409.8,2135.2C411.3,2134.3 413.0,2130.3 414.9,2126.2C416.9,2122.2 419.0,2115.0 421.3,2110.9C423.7,2106.9 426.4,2105.8 429.0,2102.0C431.5,2098.2 434.3,2092.4 436.6,2088.0C439.0,2083.5 441.3,2077.8 443.0,2075.2C444.7,2072.7 445.3,2072.4 446.8,2072.7C448.3,2072.9 450.0,2075.3 451.9,2076.5C453.9,2077.7 456.4,2078.9 458.3,2079.8C460.2,2080.6 461.7,2080.2 463.4,2081.6C465.1,2082.9 466.8,2084.3 468.5,2088.0C470.2,2091.6 471.9,2097.3 473.6,2103.3C475.3,2109.2 477.2,2118.6 478.7,2123.7C480.2,2128.8 481.3,2133.9 482.6,2133.9C483.8,2133.9 485.1,2129.2 486.4,2123.7C487.7,2118.1 488.7,2109.6 490.2,2100.7C491.7,2091.8 493.8,2078.0 495.3,2070.1C496.8,2062.2 497.9,2056.7 499.1,2053.5C500.3,2050.3 501.4,2049.5 502.4,2051.0C503.5,2052.5 504.4,2056.7 505.5,2062.4C506.7,2068.2 508.1,2076.9 509.3,2085.4C510.6,2093.9 511.9,2104.5 513.2,2113.5C514.4,2122.4 515.7,2131.8 517.0,2139.0C518.3,2146.2 519.5,2155.1 520.8,2156.8C522.1,2158.5 523.4,2154.7 524.6,2149.2C525.9,2143.7 527.2,2132.6 528.5,2123.7C529.7,2114.7 531.0,2103.7 532.3,2095.6C533.6,2087.5 535.1,2079.5 536.1,2075.2C537.2,2071.0 537.6,2068.4 538.7,2070.1C539.7,2071.8 541.2,2078.6 542.5,2085.4C543.8,2092.2 545.1,2103.3 546.3,2110.9C547.6,2118.6 548.9,2126.9 550.2,2131.3C551.4,2135.8 552.7,2138.6 554.0,2137.7C555.3,2136.9 556.5,2131.5 557.8,2126.2C559.1,2120.9 560.4,2111.8 561.6,2105.8C562.9,2099.9 564.2,2093.9 565.5,2090.5C566.7,2087.1 568.0,2084.6 569.3,2085.4C570.6,2086.3 571.8,2090.9 573.1,2095.6C574.4,2100.3 575.7,2108.8 576.9,2113.5C578.2,2118.1 579.3,2122.2 580.8,2123.7C582.3,2125.2 584.2,2124.7 585.9,2122.4C587.6,2120.1 589.3,2113.0 591.0,2109.6C592.7,2106.2 594.4,2103.7 596.1,2102.0C597.8,2100.3 599.3,2099.4 601.2,2099.4C603.1,2099.4 605.4,2102.0 607.6,2102.0C609.7,2102.0 612.2,2100.5 613.9,2099.4C615.6,2098.4 616.5,2095.0 617.8,2095.6C619.0,2096.2 620.3,2099.9 621.6,2103.3C622.9,2106.7 623.7,2112.8 625.4,2116.0C627.1,2119.2 630.0,2122.0 631.9,2122.4C633.8,2122.8 635.3,2121.8 637.0,2118.6C638.7,2115.4 640.6,2108.8 642.1,2103.3C643.6,2097.7 644.6,2089.4 645.9,2085.4C647.2,2081.4 648.5,2078.6 649.7,2079.0C651.0,2079.5 652.3,2083.1 653.6,2088.0C654.8,2092.8 656.1,2101.8 657.4,2108.4C658.7,2115.0 659.9,2122.6 661.2,2127.5C662.5,2132.4 663.6,2134.9 665.1,2137.7C666.5,2140.5 668.5,2141.7 670.2,2144.1C671.9,2146.4 673.6,2149.0 675.3,2151.7C677.0,2154.5 678.5,2158.5 680.4,2160.7C682.2,2162.8 684.3,2164.7 686.2,2164.5C688.1,2164.3 690.1,2161.9 691.8,2159.4C693.6,2156.8 695.2,2153.4 696.9,2149.2C698.6,2144.9 700.6,2139.8 702.0,2133.9C703.5,2127.9 704.6,2120.7 705.9,2113.5C707.1,2106.2 708.4,2096.5 709.7,2090.5C711.0,2084.6 712.2,2079.7 713.5,2077.8C714.8,2075.8 716.1,2076.9 717.3,2079.0C718.6,2081.2 719.9,2086.5 721.2,2090.5C722.4,2094.5 723.8,2100.1 725.0,2103.3C726.2,2106.5 727.0,2110.9 728.3,2109.6C729.6,2108.4 731.3,2101.4 732.7,2095.6C734.0,2089.9 735.2,2081.2 736.5,2075.2C737.8,2069.3 739.2,2062.9 740.3,2059.9C741.5,2056.9 742.3,2056.1 743.4,2057.3C744.4,2058.6 745.6,2062.4 746.7,2067.6C747.8,2072.7 748.9,2079.5 750.0,2088.0C751.1,2096.5 751.9,2109.6 753.1,2118.6C754.2,2127.5 755.7,2135.6 756.9,2141.5C758.1,2147.5 759.1,2153.4 760.2,2154.3C761.3,2155.1 762.1,2151.3 763.3,2146.6C764.4,2142.0 765.8,2132.6 767.1,2126.2C768.4,2119.8 769.6,2112.4 770.9,2108.4C772.2,2104.3 773.5,2102.2 774.7,2102.0C776.0,2101.8 777.1,2105.2 778.6,2107.1C780.1,2109.0 782.2,2115.0 783.7,2113.5C785.2,2112.0 786.2,2104.5 787.5,2098.2C788.8,2091.8 790.1,2082.9 791.3,2075.2C792.6,2067.6 793.9,2059.0 795.2,2052.2C796.4,2045.4 797.5,2038.6 799.0,2034.4C800.5,2030.1 802.6,2026.3 804.1,2026.7C805.6,2027.2 806.6,2032.3 807.9,2036.9C809.2,2041.6 810.3,2048.4 811.7,2054.8C813.1,2061.2 814.9,2070.7 816.3,2075.2C817.7,2079.7 818.9,2082.4 820.2,2081.6C821.4,2080.7 822.6,2075.4 824.0,2070.1C825.3,2064.8 827.0,2055.0 828.3,2049.7C829.7,2044.4 831.1,2040.3 832.1,2038.2C833.2,2036.1 833.6,2035.5 834.7,2036.9C835.8,2038.4 837.2,2043.7 838.5,2047.1C839.8,2050.5 841.3,2055.2 842.3,2057.3C843.4,2059.5 843.8,2061.6 844.9,2059.9C846.0,2058.2 847.4,2052.2 848.7,2047.1C850.0,2042.0 851.1,2034.4 852.6,2029.3C854.0,2024.2 855.7,2020.1 857.7,2016.5C859.6,2012.9 861.9,2010.1 864.0,2007.6C866.2,2005.1 868.3,2002.9 870.4,2001.7C872.5,2000.6 875.1,2001.9 876.8,2000.7C878.5,1999.6 879.3,1998.6 880.6,1994.8C881.9,1991.1 883.2,1984.2 884.4,1978.3C885.7,1972.3 886.8,1963.8 888.3,1959.1C889.8,1954.5 891.7,1950.6 893.4,1950.2C895.1,1949.8 896.8,1954.2 898.5,1956.6C900.2,1958.9 901.9,1962.7 903.6,1964.2C905.3,1965.7 907.0,1966.6 908.7,1965.5C910.4,1964.4 912.3,1962.6 913.8,1957.9C915.3,1953.1 916.4,1944.1 917.6,1937.2C918.8,1930.4 919.9,1922.8 920.9,1916.8C922.0,1910.9 923.0,1904.7 924.0,1901.5C924.9,1898.3 925.6,1896.4 926.5,1897.7C927.5,1899.0 928.5,1903.0 929.6,1909.2C930.7,1915.3 931.8,1925.8 932.9,1934.7C934.0,1943.6 935.2,1954.3 936.2,1962.8C937.3,1971.3 938.1,1979.1 939.3,1985.7C940.4,1992.3 941.8,2001.6 943.1,2002.5C944.4,2003.4 945.7,1996.8 946.9,1991.0C948.2,1985.3 949.5,1974.9 950.8,1968.1C952.0,1961.3 953.2,1952.8 954.6,1950.2C956.0,1947.7 957.9,1948.5 959.2,1952.8C960.5,1957.0 961.1,1965.9 962.2,1975.7C963.4,1985.5 965.0,1999.5 966.1,2011.4C967.1,2023.3 967.6,2036.1 968.6,2047.1C969.6,2058.2 970.9,2069.5 971.9,2077.8C973.0,2086.0 973.9,2095.6 975.0,2096.9C976.1,2098.2 977.6,2090.3 978.8,2085.4C980.1,2080.5 981.4,2072.0 982.7,2067.6C983.9,2063.1 985.4,2059.9 986.5,2058.6C987.5,2057.3 987.9,2055.9 989.0,2059.9C990.1,2063.9 991.8,2073.1 993.2,2082.9C994.5,2092.6 995.7,2107.1 997.0,2118.6C998.3,2130.1 999.7,2143.4 1000.8,2151.7C1002.0,2160.0 1002.8,2167.0 1003.9,2168.3C1004.9,2169.6 1006.1,2166.0 1007.2,2159.4C1008.3,2152.8 1009.4,2139.8 1010.5,2128.8C1011.6,2117.7 1012.6,2103.3 1013.6,2093.1C1014.6,2082.9 1015.6,2073.4 1016.6,2067.6C1017.7,2061.7 1018.8,2059.6 1019.9,2057.9C1021.1,2056.2 1022.5,2056.2 1023.8,2057.3C1025.1,2058.5 1026.1,2062.7 1027.6,2065.0C1029.1,2067.3 1031.0,2070.0 1032.7,2071.4C1034.4,2072.7 1036.1,2071.9 1037.8,2073.2C1039.5,2074.4 1041.2,2075.7 1042.9,2079.0C1044.6,2082.3 1046.3,2087.7 1048.0,2093.1C1049.7,2098.4 1051.2,2105.8 1053.1,2110.9C1055.0,2116.0 1057.4,2119.4 1059.5,2123.7C1061.6,2127.9 1063.7,2131.8 1065.9,2136.4C1068.0,2141.1 1070.5,2147.9 1072.2,2151.7C1073.9,2155.6 1074.8,2160.7 1076.1,2159.4C1077.3,2158.1 1078.6,2150.0 1079.9,2144.1C1081.2,2138.1 1082.6,2128.4 1083.7,2123.7C1084.9,2119.0 1085.7,2117.1 1086.8,2116.0C1087.8,2115.0 1088.9,2116.4 1090.1,2117.3C1091.3,2118.1 1092.7,2123.5 1093.9,2121.1C1095.2,2118.8 1096.7,2111.3 1097.8,2103.3C1098.8,2095.2 1099.5,2083.7 1100.3,2072.7C1101.2,2061.6 1102.0,2048.0 1102.9,2036.9C1103.7,2025.9 1104.6,2014.0 1105.4,2006.3C1106.3,1998.7 1107.1,1994.0 1108.0,1991.0C1108.8,1988.0 1109.7,1985.9 1110.5,1988.5C1111.4,1991.0 1112.2,1997.8 1113.1,2006.3C1113.9,2014.8 1114.5,2028.0 1115.6,2039.5C1116.7,2051.0 1118.2,2065.4 1119.4,2075.2C1120.7,2085.0 1122.2,2093.9 1123.3,2098.2C1124.3,2102.4 1125.0,2102.4 1125.8,2100.7C1126.7,2099.0 1127.5,2094.3 1128.4,2088.0C1129.2,2081.6 1130.1,2069.3 1130.9,2062.4C1131.8,2055.6 1132.4,2050.1 1133.5,2047.1C1134.5,2044.2 1136.1,2043.7 1137.3,2044.6C1138.5,2045.4 1139.5,2046.7 1140.6,2052.2C1141.7,2057.8 1142.5,2068.4 1143.7,2077.8C1144.8,2087.1 1146.2,2098.2 1147.5,2108.4C1148.8,2118.6 1150.1,2130.1 1151.3,2139.0C1152.6,2147.9 1154.1,2157.7 1155.2,2161.9C1156.2,2166.2 1156.9,2167.5 1157.7,2164.5C1158.6,2161.5 1159.4,2152.6 1160.3,2144.1C1161.1,2135.6 1162.0,2122.8 1162.8,2113.5C1163.7,2104.1 1164.3,2094.8 1165.4,2088.0C1166.4,2081.2 1167.7,2075.6 1169.2,2072.7C1170.7,2069.7 1172.6,2071.2 1174.3,2070.1C1176.0,2069.0 1177.7,2068.8 1179.4,2066.3C1181.1,2063.7 1182.8,2058.0 1184.5,2054.8C1186.2,2051.6 1188.1,2049.3 1189.6,2047.1C1191.1,2045.0 1192.1,2046.3 1193.4,2042.0C1194.7,2037.8 1196.2,2030.1 1197.2,2021.6C1198.3,2013.1 1199.2,1998.7 1199.8,1991.0C1200.4,1983.3 1200.4,1984.0 1201.1,1975.5C1201.7,1967.0 1202.8,1952.6 1203.6,1939.8C1204.5,1927.0 1205.3,1911.7 1206.2,1899.0C1207.0,1886.2 1207.9,1873.5 1208.7,1863.3C1209.6,1853.1 1210.4,1843.3 1211.3,1837.8C1212.1,1832.2 1213.0,1829.3 1213.8,1830.1C1214.7,1831.0 1215.5,1836.9 1216.4,1842.9C1217.2,1848.8 1218.1,1857.3 1218.9,1865.8C1219.8,1874.3 1220.6,1884.5 1221.5,1893.9C1222.3,1903.2 1223.2,1913.9 1224.0,1921.9C1224.9,1930.0 1225.7,1936.4 1226.6,1942.3C1227.4,1948.3 1228.2,1953.8 1229.1,1957.7C1230.1,1961.5 1231.4,1965.3 1232.4,1965.3C1233.5,1965.3 1234.5,1960.0 1235.5,1957.7C1236.5,1955.3 1237.6,1951.7 1238.6,1951.3C1239.5,1950.9 1240.5,1951.9 1241.4,1955.1C1242.2,1958.3 1243.0,1964.9 1243.7,1970.4C1244.4,1975.9 1245.2,1984.4 1245.7,1988.3C1246.2,1992.1 1246.3,1987.6 1246.9,1993.6C1247.5,1999.6 1248.6,2014.0 1249.4,2024.2C1250.3,2034.4 1251.1,2045.0 1252.0,2054.8C1252.8,2064.6 1253.9,2076.9 1254.5,2082.9C1255.2,2088.8 1255.4,2092.2 1256.1,2090.5C1256.7,2088.8 1257.7,2080.7 1258.6,2072.7C1259.5,2064.6 1260.7,2051.4 1261.7,2042.0C1262.7,2032.7 1263.8,2022.1 1264.7,2016.5C1265.7,2011.0 1266.4,2008.9 1267.3,2008.9C1268.1,2008.9 1269.0,2011.0 1269.8,2016.5C1270.7,2022.1 1271.4,2032.3 1272.4,2042.0C1273.4,2051.8 1274.5,2064.6 1275.7,2075.2C1276.9,2085.8 1278.3,2098.6 1279.5,2105.8C1280.8,2113.0 1282.2,2118.1 1283.4,2118.6C1284.5,2119.0 1285.5,2114.3 1286.7,2108.4C1287.8,2102.4 1289.1,2092.6 1290.2,2082.9C1291.4,2073.1 1292.5,2059.9 1293.6,2049.7C1294.6,2039.5 1295.6,2027.8 1296.6,2021.6C1297.7,2015.5 1298.9,2012.3 1299.9,2012.7C1301.0,2013.1 1302.0,2017.6 1303.0,2024.2C1304.0,2030.8 1304.8,2041.6 1305.8,2052.2C1306.8,2062.9 1307.9,2076.1 1308.9,2088.0C1309.8,2099.9 1310.4,2111.8 1311.4,2123.7C1312.4,2135.6 1313.7,2156.8 1314.7,2159.4C1315.8,2161.9 1316.9,2149.2 1317.8,2139.0C1318.7,2128.8 1319.5,2113.5 1320.3,2098.2C1321.2,2082.9 1322.0,2062.9 1322.9,2047.1C1323.7,2031.4 1324.5,2015.7 1325.4,2003.8C1326.4,1991.9 1327.4,1981.5 1328.5,1975.7C1329.6,1970.0 1330.8,1968.5 1331.8,1969.3C1332.8,1970.2 1333.4,1973.4 1334.4,1980.8C1335.3,1988.3 1336.4,2002.1 1337.4,2014.0C1338.5,2025.9 1339.7,2041.2 1340.8,2052.2C1341.8,2063.3 1342.9,2074.4 1343.8,2080.3C1344.8,2086.3 1345.5,2089.2 1346.4,2088.0C1347.2,2086.7 1348.1,2081.2 1348.9,2072.7C1349.8,2064.1 1350.6,2050.5 1351.5,2036.9C1352.3,2023.3 1353.3,2004.7 1354.0,1991.0C1354.7,1977.4 1355.0,1967.5 1355.6,1955.1C1356.1,1942.7 1356.7,1928.7 1357.3,1916.8C1357.9,1904.9 1358.5,1891.3 1359.1,1883.7C1359.8,1876.0 1360.3,1873.6 1361.2,1870.9C1362.0,1868.3 1363.3,1867.0 1364.2,1867.9C1365.2,1868.7 1366.0,1872.1 1366.8,1876.0C1367.5,1879.9 1368.1,1887.7 1368.8,1891.3C1369.6,1894.9 1370.4,1898.1 1371.4,1897.7C1372.3,1897.3 1373.6,1894.1 1374.4,1888.8C1375.3,1883.5 1375.8,1871.6 1376.5,1865.8C1377.1,1860.1 1377.7,1856.0 1378.5,1854.3C1379.4,1852.6 1380.6,1852.4 1381.6,1855.6C1382.5,1858.8 1383.3,1865.4 1384.1,1873.5C1385.0,1881.5 1385.8,1893.9 1386.7,1904.1C1387.5,1914.3 1388.4,1923.2 1389.2,1934.7C1390.1,1946.2 1391.0,1963.4 1391.8,1973.2C1392.5,1983.0 1393.2,1988.0 1393.8,1993.6C1394.5,1999.1 1394.7,2003.4 1395.6,2006.3C1396.5,2009.3 1397.9,2011.4 1399.4,2011.4C1400.9,2011.4 1403.0,2009.7 1404.5,2006.3C1406.0,2002.9 1407.3,1997.8 1408.4,1991.0C1409.4,1984.2 1410.1,1972.5 1410.9,1965.5C1411.8,1958.5 1412.6,1951.9 1413.5,1948.9C1414.3,1946.0 1415.2,1946.6 1416.0,1947.7C1416.9,1948.7 1417.7,1950.6 1418.6,1955.3C1419.4,1960.0 1420.0,1967.2 1421.1,1975.7C1422.2,1984.2 1423.7,1997.4 1424.9,2006.3C1426.2,2015.3 1427.6,2024.4 1428.8,2029.3C1429.9,2034.2 1430.8,2036.9 1431.8,2035.7C1432.8,2034.4 1433.9,2027.4 1434.6,2021.6C1435.4,2015.9 1435.9,2011.5 1436.4,2001.2C1436.9,1991.0 1437.1,1973.0 1437.7,1960.2C1438.3,1947.4 1439.3,1937.2 1440.2,1924.5C1441.2,1911.7 1442.2,1896.0 1443.3,1883.7C1444.4,1871.3 1445.5,1858.6 1446.6,1850.5C1447.7,1842.4 1448.7,1836.5 1449.9,1835.2C1451.2,1833.9 1452.9,1839.5 1454.3,1842.9C1455.6,1846.3 1456.7,1853.7 1458.1,1855.6C1459.5,1857.5 1461.4,1857.3 1462.7,1854.3C1464.0,1851.4 1464.7,1844.8 1465.8,1837.8C1466.8,1830.7 1467.8,1818.6 1468.8,1812.2C1469.9,1805.9 1471.2,1799.5 1472.1,1799.5C1473.1,1799.5 1473.8,1805.0 1474.7,1812.2C1475.5,1819.5 1476.4,1829.7 1477.2,1842.9C1478.1,1856.0 1479.1,1874.7 1479.8,1891.3C1480.5,1907.9 1480.9,1927.9 1481.6,1942.3C1482.2,1956.8 1482.9,1961.6 1483.6,1978.3C1484.3,1994.9 1484.9,2020.8 1485.7,2042.0C1486.4,2063.3 1487.3,2087.5 1488.2,2105.8C1489.1,2124.1 1490.3,2140.7 1491.3,2151.7C1492.2,2162.8 1492.8,2167.3 1493.8,2172.1C1494.9,2177.0 1497.0,2179.6 1497.6,2181.1" fill="none" stroke="#ff0505" stroke-width="3.3" stroke-linejoin="round" stroke-linecap="butt"/>
<path d="M290.5,2186.2C291.4,2184.3 294.3,2177.9 296.3,2174.7C298.4,2171.5 300.6,2168.7 302.7,2167.0C304.8,2165.4 307.0,2164.8 309.1,2165.0C311.2,2165.2 313.3,2166.3 315.5,2168.3C317.6,2170.4 319.7,2174.9 321.8,2177.2C324.0,2179.6 326.3,2181.6 328.2,2182.3C330.1,2183.1 331.4,2183.1 333.3,2181.8C335.2,2180.6 337.6,2178.0 339.7,2174.7C341.8,2171.4 343.9,2165.8 346.1,2161.9C348.2,2158.1 350.3,2153.9 352.4,2151.7C354.6,2149.5 356.7,2149.0 358.8,2148.7C361.0,2148.3 362.9,2148.8 365.2,2149.7C367.5,2150.6 369.9,2152.6 372.9,2154.3C375.8,2156.0 380.1,2158.0 383.1,2159.9C386.0,2161.8 388.2,2163.5 390.7,2165.8C393.3,2168.0 395.8,2171.0 398.4,2173.4C400.9,2175.8 403.7,2178.8 406.0,2180.3C408.4,2181.8 410.3,2182.2 412.4,2182.3C414.5,2182.5 416.6,2182.6 418.8,2181.1C420.9,2179.6 423.0,2177.5 425.2,2173.4C427.3,2169.4 429.4,2162.2 431.5,2156.8C433.7,2151.5 435.6,2145.6 437.9,2141.5C440.2,2137.5 443.2,2135.4 445.6,2132.6C447.9,2129.8 449.8,2127.5 451.9,2124.9C454.1,2122.4 456.4,2119.2 458.3,2117.3C460.2,2115.4 461.7,2113.5 463.4,2113.5C465.1,2113.5 466.8,2114.7 468.5,2117.3C470.2,2119.8 471.9,2124.9 473.6,2128.8C475.3,2132.6 476.8,2137.2 478.7,2140.3C480.6,2143.3 482.8,2145.6 485.1,2147.1C487.4,2148.7 490.4,2148.7 492.8,2149.7C495.1,2150.7 497.0,2151.2 499.1,2153.0C501.3,2154.8 503.4,2157.7 505.5,2160.7C507.6,2163.6 509.8,2167.7 511.9,2170.9C514.0,2174.1 516.1,2177.7 518.3,2179.8C520.4,2181.9 522.5,2183.8 524.6,2183.6C526.8,2183.4 528.9,2181.3 531.0,2178.5C533.1,2175.8 535.5,2170.2 537.4,2167.0C539.3,2163.9 541.0,2160.9 542.5,2159.4C544.0,2157.9 544.6,2157.5 546.3,2158.1C548.0,2158.8 550.6,2161.3 552.7,2163.2C554.8,2165.1 557.0,2169.2 559.1,2169.6C561.2,2170.0 563.3,2168.1 565.5,2165.8C567.6,2163.4 569.7,2159.4 571.8,2155.6C574.0,2151.7 576.3,2146.0 578.2,2142.8C580.1,2139.6 581.6,2137.9 583.3,2136.4C585.0,2134.9 586.1,2134.1 588.4,2133.9C590.8,2133.7 594.6,2134.9 597.3,2135.2C600.1,2135.4 602.4,2135.6 605.0,2135.2C607.6,2134.7 610.5,2133.0 612.7,2132.6C614.8,2132.2 615.8,2132.0 617.8,2132.6C619.7,2133.2 622.0,2135.1 624.1,2136.4C626.3,2137.8 628.7,2139.5 630.6,2140.8C632.5,2142.0 633.2,2143.5 635.7,2144.1C638.3,2144.6 642.7,2144.1 645.9,2144.1C649.1,2144.1 652.3,2143.6 654.8,2144.1C657.4,2144.6 659.1,2145.9 661.2,2147.1C663.4,2148.4 665.5,2149.7 667.6,2151.7C669.7,2153.8 671.9,2156.4 674.0,2159.4C676.1,2162.4 678.2,2166.6 680.4,2169.6C682.5,2172.6 684.8,2175.6 686.7,2177.2C688.6,2178.9 689.5,2178.9 691.8,2179.3C694.2,2179.6 698.0,2179.2 700.8,2179.3C703.5,2179.4 706.1,2179.4 708.4,2179.8C710.8,2180.2 712.5,2181.4 714.8,2181.8C717.1,2182.3 720.1,2182.6 722.4,2182.3C724.8,2182.1 726.7,2181.6 728.8,2180.3C731.0,2179.0 733.3,2176.7 735.2,2174.7C737.1,2172.7 738.6,2169.9 740.3,2168.3C742.0,2166.7 743.5,2165.4 745.4,2165.0C747.3,2164.6 749.7,2165.3 751.8,2165.8C753.9,2166.2 755.8,2167.4 758.2,2167.8C760.5,2168.2 763.3,2167.8 765.8,2168.3C768.4,2168.8 771.1,2170.3 773.5,2170.9C775.8,2171.4 777.7,2171.8 779.8,2171.6C782.0,2171.4 784.1,2170.6 786.2,2169.6C788.4,2168.6 790.8,2166.4 792.6,2165.8C794.4,2165.1 795.2,2164.9 796.9,2165.8C798.6,2166.6 800.8,2168.7 802.8,2170.9C804.8,2173.0 807.2,2176.8 809.2,2178.5C811.2,2180.2 813.1,2181.1 814.8,2181.1C816.5,2181.1 817.9,2180.9 819.4,2178.5C820.9,2176.2 822.5,2171.9 824.0,2167.0C825.5,2162.2 827.0,2155.6 828.3,2149.2C829.7,2142.8 830.9,2135.6 832.1,2128.8C833.4,2122.0 834.5,2114.7 836.0,2108.4C837.5,2102.0 839.4,2095.4 841.1,2090.5C842.8,2085.6 844.5,2081.7 846.2,2079.0C847.9,2076.4 849.6,2074.9 851.3,2074.7C853.0,2074.5 854.7,2076.3 856.4,2077.8C858.1,2079.2 859.6,2082.0 861.5,2083.4C863.4,2084.7 865.7,2086.0 867.9,2085.9C870.0,2085.8 872.1,2083.9 874.2,2082.9C876.4,2081.8 878.5,2080.3 880.6,2079.8C882.7,2079.3 885.1,2079.1 887.0,2079.8C888.9,2080.5 890.4,2081.7 892.1,2084.1C893.8,2086.6 895.3,2090.5 897.2,2094.3C899.1,2098.2 901.4,2102.8 903.6,2107.1C905.7,2111.3 907.8,2116.2 909.9,2119.8C912.1,2123.5 914.2,2126.6 916.3,2128.8C918.5,2130.9 920.4,2132.1 922.7,2132.6C925.0,2133.1 927.8,2132.1 930.4,2131.8C932.9,2131.5 935.7,2131.0 938.0,2130.8C940.3,2130.6 942.3,2130.1 944.4,2130.8C946.5,2131.5 948.6,2133.6 950.8,2135.2C952.9,2136.7 954.8,2139.0 957.1,2140.3C959.5,2141.5 962.5,2142.1 964.8,2142.8C967.1,2143.5 969.0,2143.3 971.2,2144.6C973.3,2145.9 975.4,2147.8 977.6,2150.5C979.7,2153.1 982.0,2157.7 983.9,2160.7C985.8,2163.6 987.3,2165.8 989.0,2168.3C990.8,2170.9 992.7,2174.3 994.4,2176.0C996.2,2177.7 997.8,2178.4 999.5,2178.5C1001.2,2178.6 1002.9,2178.4 1004.6,2176.7C1006.3,2175.0 1008.0,2171.4 1009.7,2168.3C1011.4,2165.2 1012.9,2161.0 1014.8,2158.1C1016.8,2155.3 1018.9,2152.6 1021.2,2151.2C1023.6,2149.8 1026.3,2149.8 1028.9,2149.7C1031.4,2149.6 1033.8,2150.1 1036.5,2150.5C1039.3,2150.8 1042.7,2151.0 1045.5,2151.7C1048.2,2152.5 1050.8,2154.3 1053.1,2154.8C1055.5,2155.3 1057.6,2155.7 1059.5,2154.8C1061.4,2153.9 1062.9,2152.2 1064.6,2149.2C1066.3,2146.1 1068.0,2141.1 1069.7,2136.4C1071.4,2131.8 1073.1,2124.9 1074.8,2121.1C1076.5,2117.3 1078.0,2115.4 1079.9,2113.5C1081.8,2111.6 1084.4,2111.3 1086.3,2109.6C1088.2,2107.9 1089.7,2107.3 1091.4,2103.3C1093.1,2099.2 1095.0,2092.2 1096.5,2085.4C1098.0,2078.6 1099.0,2069.7 1100.3,2062.4C1101.6,2055.2 1102.9,2048.4 1104.1,2042.0C1105.4,2035.7 1106.6,2028.5 1108.0,2024.2C1109.3,2019.8 1110.9,2017.1 1112.3,2016.0C1113.7,2015.0 1114.7,2016.0 1116.1,2017.8C1117.5,2019.6 1119.1,2022.7 1120.7,2026.7C1122.3,2030.8 1124.1,2036.5 1125.8,2042.0C1127.5,2047.6 1129.2,2053.5 1130.9,2059.9C1132.6,2066.3 1134.3,2073.1 1136.0,2080.3C1137.7,2087.5 1139.4,2095.6 1141.1,2103.3C1142.8,2110.9 1144.5,2119.0 1146.2,2126.2C1147.9,2133.5 1149.6,2140.9 1151.3,2146.6C1153.0,2152.4 1154.5,2156.8 1156.4,2160.7C1158.3,2164.5 1160.5,2167.2 1162.8,2169.6C1165.1,2172.0 1167.7,2174.0 1170.5,2175.2C1173.2,2176.4 1176.2,2176.2 1179.4,2176.7C1182.6,2177.3 1186.2,2178.1 1189.6,2178.5C1193.0,2178.9 1196.4,2179.3 1199.8,2179.3C1203.2,2179.3 1206.6,2178.9 1210.0,2178.5C1213.4,2178.2 1216.8,2177.7 1220.2,2177.2C1223.6,2176.8 1227.4,2176.7 1230.4,2176.0C1233.4,2175.2 1235.7,2173.4 1238.1,2172.7C1240.4,2171.9 1242.1,2171.6 1244.4,2171.6C1246.8,2171.6 1249.3,2172.7 1252.1,2172.7C1254.9,2172.7 1257.8,2172.4 1261.0,2171.6C1264.2,2170.9 1268.0,2169.4 1271.2,2168.3C1274.4,2167.2 1277.4,2166.4 1280.2,2165.0C1282.9,2163.6 1285.5,2162.1 1287.8,2159.9C1290.1,2157.7 1292.1,2155.2 1294.2,2151.7C1296.3,2148.2 1298.4,2142.4 1300.6,2139.0C1302.7,2135.6 1304.6,2133.7 1306.9,2131.3C1309.3,2129.0 1312.5,2127.1 1314.6,2124.9C1316.7,2122.8 1318.0,2122.2 1319.7,2118.6C1321.4,2115.0 1323.1,2109.2 1324.8,2103.3C1326.5,2097.3 1328.2,2089.2 1329.9,2082.9C1331.6,2076.5 1333.1,2070.5 1335.0,2065.0C1336.9,2059.5 1339.3,2053.7 1341.4,2049.7C1343.5,2045.7 1345.6,2043.5 1347.8,2040.8C1349.9,2038.0 1352.7,2035.0 1354.1,2033.1C1355.5,2031.2 1354.5,2032.0 1356.1,2029.3C1357.7,2026.5 1361.4,2021.0 1363.7,2016.5C1366.1,2012.1 1368.2,2007.2 1370.1,2002.5C1372.0,1997.8 1373.7,1992.1 1375.2,1988.5C1376.7,1984.9 1377.7,1982.4 1379.0,1980.8C1380.3,1979.2 1381.6,1978.4 1382.8,1978.8C1384.1,1979.2 1385.2,1980.9 1386.7,1983.4C1388.2,1985.8 1389.9,1989.3 1391.8,1993.6C1393.7,1997.8 1396.0,2003.8 1398.2,2008.9C1400.3,2014.0 1402.4,2018.2 1404.5,2024.2C1406.7,2030.1 1409.0,2037.8 1410.9,2044.6C1412.8,2051.4 1414.5,2058.2 1416.0,2065.0C1417.5,2071.8 1418.6,2079.0 1419.8,2085.4C1421.1,2091.8 1422.4,2097.7 1423.7,2103.3C1424.9,2108.8 1426.2,2113.9 1427.5,2118.6C1428.8,2123.2 1429.8,2127.5 1431.3,2131.3C1432.8,2135.2 1434.5,2138.6 1436.4,2141.5C1438.3,2144.5 1440.7,2146.7 1442.8,2149.2C1444.9,2151.6 1447.0,2154.3 1449.2,2156.3C1451.3,2158.4 1453.4,2160.0 1455.6,2161.4C1457.7,2162.9 1459.8,2164.1 1461.9,2165.0C1464.1,2165.9 1466.2,2166.0 1468.3,2166.5C1470.4,2167.1 1472.6,2167.2 1474.7,2168.3C1476.8,2169.5 1478.9,2171.7 1481.1,2173.4C1483.2,2175.1 1485.3,2176.9 1487.4,2178.5C1489.6,2180.1 1492.1,2181.8 1493.8,2182.9C1495.5,2183.9 1497.0,2184.6 1497.6,2184.9" fill="none" stroke="#0a0a0a" stroke-width="2.8" stroke-linejoin="round" stroke-linecap="butt"/>
<line x1="306.0" y1="1723.7" x2="306.0" y2="2200.2" stroke="#1c1cff" stroke-width="4.8" stroke-dasharray="5.20 8.656"/>
<line x1="359.0" y1="1720.0" x2="359.0" y2="2200.2" stroke="#1c1cff" stroke-width="3.0" stroke-dasharray="5.20 8.765"/>
<line x1="741.1" y1="1719.0" x2="741.1" y2="2198.2" stroke="#1c1cff" stroke-width="3.0" stroke-dasharray="5.20 8.735"/>
<line x1="850.5" y1="1725.5" x2="850.5" y2="2205.2" stroke="#1c1cff" stroke-width="3.0" stroke-dasharray="5.20 8.750"/>
<line x1="885.7" y1="1725.5" x2="885.7" y2="2205.2" stroke="#1c1cff" stroke-width="3.0" stroke-dasharray="5.20 8.750"/>
<line x1="923.0" y1="1725.5" x2="923.0" y2="2205.2" stroke="#1c1cff" stroke-width="4.8" stroke-dasharray="5.20 8.750"/>
<line x1="954.1" y1="1725.5" x2="954.1" y2="2205.2" stroke="#1c1cff" stroke-width="3.0" stroke-dasharray="5.20 8.750"/>
<line x1="1376.5" y1="1727.0" x2="1376.5" y2="2205.2" stroke="#1c1cff" stroke-width="4.8" stroke-dasharray="5.20 8.706"/>
<line x1="1015.6" y1="1729.0" x2="1015.6" y2="2205.2" stroke="#1c1cff" stroke-width="4.8" stroke-dasharray="5.20 8.647"/>
<line x1="1048.0" y1="1729.0" x2="1048.0" y2="2205.2" stroke="#1c1cff" stroke-width="4.8" stroke-dasharray="5.20 8.647"/>
<line x1="1108.0" y1="1720.0" x2="1108.0" y2="2196.2" stroke="#1c1cff" stroke-width="4.0" stroke-dasharray="5.20 8.647"/>
<line x1="1137.0" y1="1720.0" x2="1137.0" y2="2196.2" stroke="#1c1cff" stroke-width="4.0" stroke-dasharray="5.20 8.647"/>
<line x1="1267.4" y1="1727.0" x2="1267.4" y2="2205.2" stroke="#1c1cff" stroke-width="4.8" stroke-dasharray="5.20 8.706"/>
<line x1="1473.4" y1="1724.0" x2="1473.4" y2="2197.2" stroke="#1c1cff" stroke-width="3.0" stroke-dasharray="5.20 8.559"/>
<g stroke="#1c1c1c" stroke-width="2.8" fill="none" stroke-linecap="butt">
<line x1="241.8" y1="1725.0" x2="241.8" y2="2207.3"/>
<line x1="240.3" y1="2205.8" x2="1547.5" y2="2205.8"/>
<line x1="215.8" y1="1763.8" x2="241.8" y2="1763.8"/>
<line x1="215.8" y1="1848.5" x2="241.8" y2="1848.5"/>
<line x1="215.8" y1="1933.5" x2="241.8" y2="1933.5"/>
<line x1="215.8" y1="2017.7" x2="241.8" y2="2017.7" stroke="#8a8a8a"/>
<line x1="215.8" y1="2099.8" x2="241.8" y2="2099.8"/>
<line x1="215.8" y1="2184.0" x2="241.8" y2="2184.0"/>
<line x1="293.0" y1="2205.8" x2="293.0" y2="2231.8"/>
<line x1="418.8" y1="2205.8" x2="418.8" y2="2231.8"/>
<line x1="544.8" y1="2205.8" x2="544.8" y2="2231.8"/>
<line x1="670.2" y1="2205.8" x2="670.2" y2="2231.8"/>
<line x1="795.4" y1="2205.8" x2="795.4" y2="2231.8"/>
<line x1="921.4" y1="2205.8" x2="921.4" y2="2231.8"/>
<line x1="1047.2" y1="2205.8" x2="1047.2" y2="2231.8"/>
<line x1="1172.2" y1="2205.8" x2="1172.2" y2="2231.8"/>
<line x1="1297.4" y1="2205.8" x2="1297.4" y2="2231.8" stroke="#8a8a8a"/>
<line x1="1421.1" y1="2205.8" x2="1421.1" y2="2231.8"/>
</g>
<g font-size="43.4" fill="#000" stroke="#000" stroke-width="0.55" text-anchor="middle">
<text transform="translate(293.0 2295.8) scale(0.935 1)">800</text>
<text transform="translate(546.0 2295.8) scale(0.935 1)">1000</text>
<text transform="translate(796.2 2295.8) scale(0.935 1)">1200</text>
<text transform="translate(1046.3 2295.8) scale(0.935 1)">1400</text>
<text transform="translate(1297.0 2295.8) scale(0.935 1)">1600</text>
<text transform="translate(182.8 1848.8) rotate(-90)" font-size="44" letter-spacing="0">2.0</text>
<text transform="translate(182.8 2017.8) rotate(-90)" font-size="44" letter-spacing="0">1.0</text>
<text transform="translate(182.8 2184.2) rotate(-90)" font-size="44" letter-spacing="0">0.0</text>
</g>
</g>
<line x1="237.2" y1="1648.4" x2="314.3" y2="1648.4" stroke="#ff0000" stroke-width="12.5"/>
<text x="326" y="1659.2" font-size="40.5" letter-spacing="0.75" fill="#ff0000" stroke="#ff0000" stroke-width="0.55">2.5 <tspan stroke="#ff0000" stroke-width="1.3">h</tspan> GE-ARBP</text>
<text x="141.7" y="1649" font-size="49" fill="#000" stroke="#000" stroke-width="0.55">(c)</text>
<text transform="translate(71 1231.5) rotate(-90)" font-size="48.4" text-anchor="middle" fill="#000" stroke="#000" stroke-width="0.55">Raman Intensity</text>
<text transform="translate(623 2363.3) scale(0.925 1)" font-size="52" fill="#000" stroke="#000" stroke-width="0.55">Wavenumber cm<tspan font-size="33" dy="-21" dx="5">-1</tspan></text>
</g>
</svg></body></html>
